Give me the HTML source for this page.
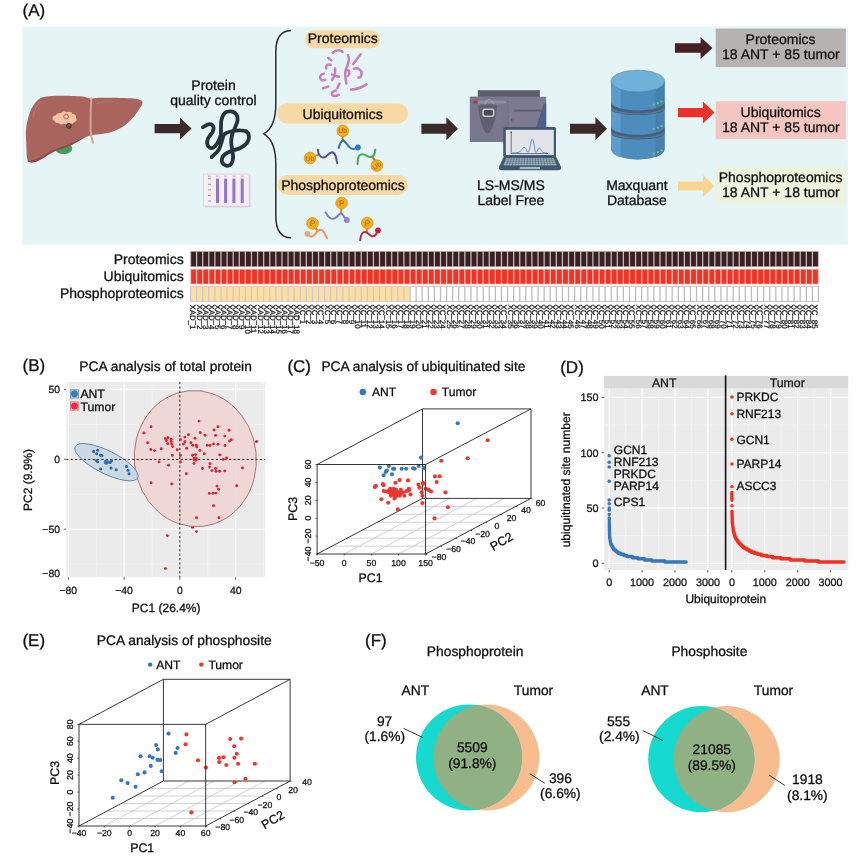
<!DOCTYPE html>
<html><head><meta charset="utf-8"><title>Figure</title>
<style>
html,body{margin:0;padding:0;background:#fff;}
body{width:865px;height:861px;overflow:hidden;font-family:"Liberation Sans",sans-serif;}
svg{display:block;font-family:"Liberation Sans",sans-serif;text-rendering:geometricPrecision;will-change:transform;}

svg text{stroke:#0d0d0d;stroke-width:0.28px;}
svg text.nb{stroke:none;}
svg text.sl{font-family:"Liberation Sans",sans-serif;font-size:7.9px;fill:#111;stroke:#111;stroke-width:0.22px;}
</style></head>
<body>
<svg width="865" height="861" viewBox="0 0 865 861" fill="#0d0d0d">
<defs><clipPath id="clipB"><rect x="66.2" y="382" width="199" height="195.2"/></clipPath></defs>
<rect width="865" height="861" fill="#ffffff"/>
<text x="22.5" y="15.8" font-size="17">(A)</text>
<rect x="22.4" y="26.6" width="825.5" height="218" fill="#e5f5f6"/>
<ellipse cx="63.6" cy="148.5" rx="8.6" ry="5.6" fill="#3f9c5c"/>
<path d="M42.5,97.2 C50,95.6 60,95.6 66,95.8 C74,96 82,96.2 86,97.2 C88.5,97.8 90,98.6 91.2,98.6 C93,98.6 95,97.9 98,97.8 C106,97.6 125,97.8 134,98.4 C138.5,98.8 142.8,100.4 142.6,102.4 C142.4,104.8 141,106.4 139.6,108.4 C137,112.4 134.6,116 131.2,119.6 C127.6,123.2 125,125.4 122,127.2 C117.6,129.8 114,131.2 110,132.4 C104.6,133.8 99,134 93.6,134.8 C90,135.6 87,136.6 84.6,137.7 C80,139.9 76,142.8 71.1,145.2 C66,147.6 60,149.2 54.6,151.2 C50,153.2 46.5,156 42.5,158.6 C39.5,160.4 35.5,162.5 32,162.5 C29.5,162.5 28,161.8 27.5,160 C26.2,155 26.5,150 26.4,145 C26.1,140 25.6,135 26,130 C26.4,125 27.5,120 29,115 C30.5,110.5 32.3,106.3 35,103 C37,100.3 39.5,98.2 42.5,97.2Z" fill="#a8645d"/>
<path d="M27.5,160 C28,161.8 29.5,162.5 32,162.5 C35.5,162.5 39.5,160.4 42.5,158.6 C46.5,156 50,153.2 54.6,151.2 C60,149.2 66,147.6 71.1,145.2 C76,142.8 80,139.9 84.6,137.7 C81,138.6 76,141 71,143.4 C65,146 59,147.6 54,149.4 C49,151.4 45,154.4 41.5,156.6 C37.5,158.8 33,160.6 30.5,160.6 C29,160.6 28,160.4 27.5,160Z" fill="#8d4c4b"/>
<path d="M91.3,98.6 C90.9,106 90.3,118 90.6,130 C90.8,135 91.9,139.5 93,142.9" fill="none" stroke="#d9a292" stroke-width="2" stroke-linecap="round"/>
<path d="M33,118 C33.8,111 36.5,105.5 40.5,101.5" fill="none" stroke="#b87a72" stroke-width="1.1" stroke-linecap="round" opacity="0.8"/>
<path d="M97,103.5 C102,101.8 108,101.4 113,101.6" fill="none" stroke="#b87a72" stroke-width="1" stroke-linecap="round" opacity="0.7"/>
<path d="M52.5,119 C52.2,117 54,115.4 55.8,115.6 C56.2,113.6 58.6,112.4 60.6,113.2 C62,111.4 65.2,111 67,112.2 C69,111.2 72,112 72.6,114 C75,114 76.6,116 76,118 C77.2,119.6 76.2,121.8 74.2,122 C73.4,123.8 71,124.2 69.6,123.2 C68,124.8 65.2,124.8 64,123.6 C62.2,125 59.4,124.6 58.6,123 C56.4,123.6 54.4,122.2 54.6,120.6 C53.4,120.4 52.6,119.8 52.5,119Z" fill="#f7c3a0"/>
<circle cx="66.1" cy="116.6" r="2.3" fill="#f9d3bd" stroke="#e4453c" stroke-width="1"/>
<circle cx="68.9" cy="125.9" r="2.3" fill="#8f5557" stroke="#3a2224" stroke-width="1"/>
<path d="M154.6,123.9H180.0V117.8L191.6,128.6L180.0,139.4V133.3H154.6Z" fill="#3a2a29"/>
<path d="M421.4,123.8H446.4V117.3L458.0,128.8L446.4,140.3V133.8H421.4Z" fill="#3a2a29"/>
<path d="M570.0,123.8H595.4V117.3L607.0,128.8L595.4,140.3V133.8H570.0Z" fill="#3a2a29"/>
<path d="M675.0,43.3H700.6V37.0L712.4,48.0L700.6,59.0V52.7H675.0Z" fill="#452127"/>
<path d="M678.0,108.0H702.9V101.6L714.5,112.6L702.9,123.6V117.2H678.0Z" fill="#ea3228"/>
<path d="M678.0,181.4H702.9V175.0L714.5,186.0L702.9,197.0V190.6H678.0Z" fill="#fbd390"/>
<text x="213.5" y="89.5" font-size="14" text-anchor="middle">Protein</text>
<text x="213.4" y="104.5" font-size="14" text-anchor="middle">quality control</text>
<path d="M202.9,127.3 C204.0,126.8 207.6,124.3 209.3,124.2 C211.1,124.2 213.0,125.6 213.5,126.9 C214.0,128.2 213.2,130.3 212.4,132.2 C211.5,134.1 209.1,136.3 208.2,138.2 C207.3,140.1 206.8,141.9 207.1,143.5 C207.3,145.1 208.6,147.0 209.7,147.6 C210.8,148.3 212.5,148.1 213.9,147.3 C215.2,146.4 216.5,144.7 217.6,142.7 C218.8,140.7 220.1,137.7 220.7,135.2 C221.2,132.7 220.9,130.2 221.0,127.6 C221.2,125.1 220.8,122.5 221.4,120.1 C222.0,117.7 222.9,114.7 224.4,113.3 C225.9,111.9 228.5,111.3 230.5,111.4 C232.4,111.5 234.9,112.6 236.1,114.1 C237.3,115.5 237.8,117.8 237.6,120.1 C237.5,122.4 235.9,125.1 235.0,127.6 C234.1,130.2 232.6,132.7 232.0,135.2 C231.4,137.7 231.2,140.2 231.2,142.7 C231.3,145.3 232.0,147.8 232.4,150.3 C232.7,152.8 233.3,155.6 233.1,157.8 C232.9,160.1 232.3,162.5 231.2,163.9 C230.2,165.2 228.1,165.9 226.7,165.8 C225.3,165.6 223.3,164.4 222.5,163.1 C221.8,161.8 221.7,159.3 222.2,157.8 C222.6,156.3 223.7,155.2 225.2,154.1 C226.7,152.9 228.7,152.0 231.2,151.0 C233.7,150.0 237.6,149.4 240.3,148.0 C242.9,146.6 245.6,144.6 247.1,142.7 C248.5,140.8 249.1,138.6 249.0,136.7 C248.8,134.8 247.8,132.5 246.3,131.4 C244.9,130.3 242.5,130.3 240.3,130.3 C238.0,130.2 235.0,130.6 232.7,131.0 C230.5,131.5 228.2,132.2 226.7,132.9 C225.2,133.6 224.6,133.6 223.7,135.2 C222.8,136.8 222.3,140.2 221.4,142.7 C220.5,145.3 220.0,147.9 218.4,150.3 C216.8,152.7 212.7,155.9 211.6,157.1" fill="none" stroke="#26323c" stroke-width="3.8" stroke-linecap="round" stroke-linejoin="round"/>
<rect x="204.6" y="175" width="46" height="32.4" fill="#dccfdc"/>
<rect x="203.5" y="174" width="45.6" height="32" fill="#f6eff2" stroke="#dccfda" stroke-width="0.7"/>
<rect x="216.0" y="178.7" width="3" height="24.2" fill="#9672c9"/>
<rect x="215.9" y="175.6" width="3.2" height="1.2" fill="#cdb9dc"/>
<rect x="224.1" y="178.7" width="3" height="24.2" fill="#9672c9"/>
<rect x="224.0" y="175.6" width="3.2" height="1.2" fill="#cdb9dc"/>
<rect x="232.4" y="178.7" width="3" height="24.2" fill="#9672c9"/>
<rect x="232.3" y="175.6" width="3.2" height="1.2" fill="#cdb9dc"/>
<rect x="240.7" y="178.7" width="3" height="24.2" fill="#9672c9"/>
<rect x="240.6" y="175.6" width="3.2" height="1.2" fill="#cdb9dc"/>
<rect x="207.9" y="175.6" width="3.2" height="1.2" fill="#cdb9dc"/>
<rect x="208" y="178.2" width="3" height="1" fill="#a88bd2"/>
<rect x="208" y="183.8" width="3" height="1" fill="#a88bd2"/>
<rect x="208" y="189.4" width="3" height="1" fill="#a88bd2"/>
<rect x="208" y="195.0" width="3" height="1" fill="#a88bd2"/>
<rect x="208" y="200.5" width="3" height="1" fill="#a88bd2"/>
<path d="M291,30.6 C280.4,30.8 275.8,38 275.8,52 V104 C275.8,121 271.2,129.6 263.8,133.9 C271.2,138.2 275.8,147 275.8,164 V216 C275.8,230 280.4,237.6 291,237.8" fill="none" stroke="#2e2a2a" stroke-width="1.5"/>
<rect x="305" y="30.3" width="75.2" height="18" rx="9" fill="#f8d9a4"/>
<text x="342.8" y="42.8" font-size="14" text-anchor="middle">Proteomics</text>
<rect x="277" y="103.2" width="131" height="20.4" rx="10.2" fill="#f8d9a4"/>
<text x="342.6" y="118.5" font-size="14" text-anchor="middle">Ubiquitomics</text>
<rect x="277.6" y="175" width="130.4" height="20" rx="10" fill="#f8d9a4"/>
<text x="343" y="189.8" font-size="14" text-anchor="middle">Phosphoproteomics</text>
<path d="M332.8,52.8 Q338.1,48 342.6,52" fill="none" stroke="#cd7cbd" stroke-width="2.5" stroke-linecap="round"/>
<path d="M328.3,58.1 L331.3,60.3" fill="none" stroke="#cd7cbd" stroke-width="2.5" stroke-linecap="round"/>
<path d="M326.1,68.6 Q325.6,63.4 330.6,64.8" fill="none" stroke="#cd7cbd" stroke-width="2.5" stroke-linecap="round"/>
<path d="M323.8,73.8 C318.6,74.6 318.8,81.6 325.3,79.9" fill="none" stroke="#cd7cbd" stroke-width="2.5" stroke-linecap="round"/>
<path d="M335.1,68.6 C335.4,73 334.4,77 332.1,79.9" fill="none" stroke="#cd7cbd" stroke-width="2.5" stroke-linecap="round"/>
<path d="M332.1,74.6 L338.8,76.8" fill="none" stroke="#cd7cbd" stroke-width="2.5" stroke-linecap="round"/>
<path d="M323.1,88.1 L328.3,86.6" fill="none" stroke="#cd7cbd" stroke-width="2.5" stroke-linecap="round"/>
<path d="M339.6,83.6 L337.3,88.1" fill="none" stroke="#cd7cbd" stroke-width="2.5" stroke-linecap="round"/>
<path d="M335.8,90.4 C329.8,91.4 330.6,99 338.8,94.9" fill="none" stroke="#cd7cbd" stroke-width="2.5" stroke-linecap="round"/>
<path d="M347.9,55.1 C351,60 347,66 345.6,70.1 C344.6,74 345.6,79 346.4,83.6" fill="none" stroke="#cd7cbd" stroke-width="2.5" stroke-linecap="round"/>
<path d="M360.6,54.3 L353.1,64.1" fill="none" stroke="#cd7cbd" stroke-width="2.5" stroke-linecap="round"/>
<path d="M346.6,70 C349.6,70 350.4,73.6 348.2,76" fill="none" stroke="#cd7cbd" stroke-width="2.5" stroke-linecap="round"/>
<path d="M353.9,68.6 C358,67.6 361.6,70 361.6,73.6 C361.6,76.6 360,77.8 358.4,77.6" fill="none" stroke="#cd7cbd" stroke-width="2.5" stroke-linecap="round"/>
<path d="M350.9,89.6 C356,89.4 362,87.4 366.6,84.4" fill="none" stroke="#cd7cbd" stroke-width="2.5" stroke-linecap="round"/>
<path d="M342.8,136.5 V140.4" stroke="#e08a1e" fill="none" stroke-width="2" stroke-linecap="round" stroke-linejoin="round"/>
<path d="M338.6,147.9 C339.6,144.6 341,141.6 342.8,140 C345.4,141.4 347,144.6 348.9,146.7 C350.6,148.6 352.6,149.4 355,148.6" stroke="#2f72c2" fill="none" stroke-width="2" stroke-linecap="round" stroke-linejoin="round"/>
<circle cx="357.9" cy="147.5" r="2.9" fill="#2479d0"/>
<circle cx="342.8" cy="130.9" r="5.8" fill="#f4ad1c" stroke="#dc8f12" stroke-width="0.8"/><text x="342.8" y="133.4" font-size="7" text-anchor="middle" fill="#a86208" class="nb">Ub</text>
<path d="M315.6,155.6 L319,154.6" stroke="#e08a1e" fill="none" stroke-width="2" stroke-linecap="round" stroke-linejoin="round"/>
<path d="M317.9,149.7 C318,152 318.4,153.8 319.4,155 C321,157.4 323.6,158.4 326,156.6 C328,155 329.4,152.4 332,152.2 C334,152.2 335,154 335.6,156 C336.4,158.6 336.8,160.6 337.1,163" stroke="#5d4c9e" fill="none" stroke-width="2" stroke-linecap="round" stroke-linejoin="round"/>
<circle cx="310.1" cy="158" r="5.8" fill="#f4ad1c" stroke="#dc8f12" stroke-width="0.8"/><text x="310.1" y="160.5" font-size="7" text-anchor="middle" fill="#a86208" class="nb">Ub</text>
<path d="M372.8,157.2 L375.2,160.8" stroke="#e0661e" fill="none" stroke-width="2" stroke-linecap="round" stroke-linejoin="round"/>
<path d="M357.5,164.1 C357.6,161 357.8,158.4 358.7,156.5 C359.8,154.4 361.6,153.8 363.6,154.4 C366,155.2 368,157 370.4,157 C372.6,157 374,155.6 374.6,153.6 C375,152.4 375.2,151 375.3,149.7" stroke="#4ba75c" fill="none" stroke-width="2" stroke-linecap="round" stroke-linejoin="round"/>
<circle cx="376.8" cy="165.6" r="5.8" fill="#f4ad1c" stroke="#dc8f12" stroke-width="0.8"/><text transform="rotate(-35 376.8 165.6)" x="376.8" y="168.1" font-size="7" text-anchor="middle" fill="#a86208" class="nb">Ub</text>
<path d="M341.4,208.6 L341,213.4" stroke="#e08a1e" fill="none" stroke-width="2" stroke-linecap="round" stroke-linejoin="round"/>
<path d="M325.5,212.4 C327,215 328.8,217.4 330.8,218.4 C333,219.4 335,218.6 336.6,217 C338.2,215.4 339.4,213.8 340.8,213.2 C342.4,213.6 343.2,215.4 344.2,217 L345.6,218.8" stroke="#7c7fc6" fill="none" stroke-width="2" stroke-linecap="round" stroke-linejoin="round"/>
<circle cx="346.8" cy="220" r="2.9" fill="#8c86cd"/>
<circle cx="341.6" cy="203" r="5.8" fill="#f4ad1c" stroke="#dc8f12" stroke-width="0.8"/><text x="341.6" y="205.9" font-size="8" text-anchor="middle" fill="#a86208" class="nb">P</text>
<path d="M315.4,228.2 L318,230.8" stroke="#e08a1e" fill="none" stroke-width="2" stroke-linecap="round" stroke-linejoin="round"/>
<path d="M308.6,235.2 C310,236.8 312,237 313.6,235.8 C315.6,234.2 316.6,231.6 318.6,230.4 C320.4,229.4 322.4,230 323.6,231.8 C325,233.8 326,236 327,238" stroke="#f0946a" fill="none" stroke-width="2" stroke-linecap="round" stroke-linejoin="round"/>
<circle cx="307.4" cy="233.8" r="2.9" fill="#f5a27c"/>
<circle cx="312.6" cy="223.4" r="5.8" fill="#f4ad1c" stroke="#dc8f12" stroke-width="0.8"/><text x="312.6" y="226.3" font-size="8" text-anchor="middle" fill="#a86208" class="nb">P</text>
<path d="M367.2,228.8 L367,232.2" stroke="#e08a1e" fill="none" stroke-width="2" stroke-linecap="round" stroke-linejoin="round"/>
<path d="M360.2,240.3 C360.4,237.6 360.8,235.4 361.8,234 C363,232.2 365,231.6 366.8,232.6 C368.8,233.8 370,235.8 372,236.2 C374,236.6 375.6,235.4 376.4,233.6" stroke="#b42c44" fill="none" stroke-width="2" stroke-linecap="round" stroke-linejoin="round"/>
<circle cx="378" cy="230.5" r="2.9" fill="#c2203c"/>
<circle cx="367.3" cy="223" r="5.8" fill="#f4ad1c" stroke="#dc8f12" stroke-width="0.8"/><text x="367.3" y="225.9" font-size="8" text-anchor="middle" fill="#a86208" class="nb">P</text>
<rect x="477.8" y="90.2" width="62.1" height="7" fill="#5c5e6b"/>
<rect x="469.9" y="96.8" width="76.3" height="45.1" rx="0.8" fill="#7b7a8f"/>
<rect x="469.9" y="96.8" width="38.4" height="45.1" rx="0.8" fill="#78778b"/>
<path d="M508.3,96.8V141.9" stroke="#6c6b7e" stroke-width="0.6"/>
<path d="M543.9,103.5 H546.2 V127 H536.3 Z" fill="#4b608f"/>
<rect x="477.8" y="100.8" width="28" height="2.8" rx="1.2" fill="#8f8ea2"/>
<ellipse cx="475.4" cy="102.1" rx="2.4" ry="1.7" fill="#b23244"/>
<path d="M478.4,105.6 C478.4,104.6 480,104.4 487.6,104.4 C495.4,104.4 496.9,104.6 496.9,105.6 C496.9,116 492,130 489.6,132.6 C488.4,133.8 486.8,133.8 485.6,132.6 C483,130 478.4,116 478.4,105.6Z" fill="#5e5f6f"/>
<path d="M485,104.6 C485.6,101 487,99.6 489,99.6 C491,99.6 492.4,101 494,104.4" fill="none" stroke="#b4b4c2" stroke-width="0.7"/>
<rect x="482.3" y="108.4" width="12.2" height="8.6" rx="2.4" fill="#c6c6d2"/>
<rect x="483.9" y="110" width="9" height="5.4" rx="1.4" fill="#4b4b57"/>
<rect x="514" y="109.6" width="27.4" height="2" fill="#5f6070"/>
<circle cx="511.8" cy="120" r="0.8" fill="#4a4a58"/>
<rect x="503.2" y="127" width="52.8" height="30" rx="1.6" fill="#3f5a6f"/>
<rect x="505.8" y="129.8" width="48" height="25.2" fill="#e3e4e9"/>
<path d="M504,156.3 H555.8 L561,166.8 C561.4,168.8 560.6,170.3 558.6,170.3 H501.4 C499.4,170.3 498.6,168.8 499,166.8 Z" fill="#3f5a6f"/>
<path d="M506.2,158.2 H553.8 L556.6,165.2 H503.4 Z" fill="#a9bac6"/>
<path d="M504.9,159.9H555.1" stroke="#3f5a6f" stroke-width="0.5"/>
<path d="M504.2,161.7H555.8" stroke="#3f5a6f" stroke-width="0.5"/>
<path d="M503.5,163.4H556.5" stroke="#3f5a6f" stroke-width="0.5"/>
<path d="M508.8,158.2L506.4,165.2" stroke="#3f5a6f" stroke-width="0.5"/>
<path d="M511.5,158.2L509.3,165.2" stroke="#3f5a6f" stroke-width="0.5"/>
<path d="M514.1,158.2L512.3,165.2" stroke="#3f5a6f" stroke-width="0.5"/>
<path d="M516.8,158.2L515.2,165.2" stroke="#3f5a6f" stroke-width="0.5"/>
<path d="M519.4,158.2L518.2,165.2" stroke="#3f5a6f" stroke-width="0.5"/>
<path d="M522.1,158.2L521.1,165.2" stroke="#3f5a6f" stroke-width="0.5"/>
<path d="M524.7,158.2L524.1,165.2" stroke="#3f5a6f" stroke-width="0.5"/>
<path d="M527.4,158.2L527.0,165.2" stroke="#3f5a6f" stroke-width="0.5"/>
<path d="M530.0,158.2L530.0,165.2" stroke="#3f5a6f" stroke-width="0.5"/>
<path d="M532.6,158.2L533.0,165.2" stroke="#3f5a6f" stroke-width="0.5"/>
<path d="M535.3,158.2L535.9,165.2" stroke="#3f5a6f" stroke-width="0.5"/>
<path d="M537.9,158.2L538.9,165.2" stroke="#3f5a6f" stroke-width="0.5"/>
<path d="M540.6,158.2L541.8,165.2" stroke="#3f5a6f" stroke-width="0.5"/>
<path d="M543.2,158.2L544.8,165.2" stroke="#3f5a6f" stroke-width="0.5"/>
<path d="M545.9,158.2L547.7,165.2" stroke="#3f5a6f" stroke-width="0.5"/>
<path d="M548.5,158.2L550.7,165.2" stroke="#3f5a6f" stroke-width="0.5"/>
<path d="M551.2,158.2L553.6,165.2" stroke="#3f5a6f" stroke-width="0.5"/>
<rect x="519.8" y="166.9" width="20.2" height="2.2" fill="#a9bac6"/>
<path d="M511.2,132.1 V153.5 H547.7" fill="none" stroke="#3c3c46" stroke-width="0.7"/>
<circle cx="511.2" cy="132.2" r="0.8" fill="#3c3c46"/><path d="M546.4,152.6 L548.4,153.5 L546.4,154.4Z" fill="#3c3c46"/>
<path d="M512,153 C517,153 520,152.4 521.4,150.4 C522.6,148.6 523.2,147.4 524.2,147.4 C525.4,147.4 526,149 527,151 C527.8,152.6 528.4,152.6 529,151 C530,148 530.8,139.1 532.2,139.1 C533.6,139.1 534.2,148 535.2,151.4 C535.8,153 536.4,152.6 537,151.4 C537.8,149.6 538.2,148 539.1,148 C540.2,148 541,150 542,151.6 C543,153 545,153 547,153" fill="none" stroke="#3b82c4" stroke-width="0.8"/>
<text x="510.9" y="189.6" font-size="14" text-anchor="middle">LS-MS/MS</text>
<text x="510.9" y="204.6" font-size="14" text-anchor="middle">Label Free</text>
<path d="M611.0,81.1 V148.8 A26.8,10.9 0 0 0 664.5999999999999,148.8 V81.1 Z" fill="#4d8dbd"/>
<path d="M611.0,81.1 V148.8 A26.8,10.9 0 0 0 620.5,157.4 V89.7 Z" fill="#5a9dca"/>
<path d="M664.5999999999999,81.1 V148.8 A26.8,10.9 0 0 1 655.5999999999999,157.2 V89.5 Z" fill="#4581af"/>
<path d="M611.0,102.2 A26.8,8.3 0 0 0 664.5999999999999,102.2 V109.2 A26.8,5.9 0 0 1 611.0,109.2 Z" fill="#46607f"/>
<path d="M611.0,105.8 A26.8,7.4 0 0 0 664.5999999999999,105.8 V108.4 A26.8,6.1 0 0 1 611.0,108.4 Z" fill="#5d7794"/>
<path d="M611.0,126.5 A26.8,8.3 0 0 0 664.5999999999999,126.5 V133.5 A26.8,5.9 0 0 1 611.0,133.5 Z" fill="#46607f"/>
<path d="M611.0,130.1 A26.8,7.4 0 0 0 664.5999999999999,130.1 V132.7 A26.8,6.1 0 0 1 611.0,132.7 Z" fill="#5d7794"/>
<ellipse cx="637.8" cy="81.1" rx="26.8" ry="10.9" fill="#6fb1d9" stroke="#4d86b0" stroke-width="0.6"/>
<circle cx="653.8" cy="104.7" r="1.1" fill="#7ec365"/>
<circle cx="657.9" cy="103.2" r="1.1" fill="#7ec365"/>
<circle cx="661.7" cy="101.5" r="1.1" fill="#7ec365"/>
<circle cx="653.8" cy="129.1" r="1.1" fill="#7ec365"/>
<circle cx="657.9" cy="127.6" r="1.1" fill="#7ec365"/>
<circle cx="661.7" cy="125.9" r="1.1" fill="#7ec365"/>
<circle cx="653.8" cy="153.7" r="1.1" fill="#7ec365"/>
<circle cx="657.9" cy="152.2" r="1.1" fill="#7ec365"/>
<circle cx="661.7" cy="150.5" r="1.1" fill="#7ec365"/>
<text x="636.9" y="189.6" font-size="14" text-anchor="middle">Maxquant</text>
<text x="636.9" y="204.6" font-size="14" text-anchor="middle">Database</text>
<rect x="715.7" y="28.6" width="130.1" height="38.5" fill="#b4b3b2"/>
<rect x="715.7" y="101.2" width="130.1" height="38" fill="#f5c5c1"/>
<rect x="715.7" y="166.4" width="130.1" height="38.2" fill="#edf3dc"/>
<text x="780.6" y="44" font-size="14" text-anchor="middle">Proteomics</text>
<text x="780.6" y="116.6" font-size="14" text-anchor="middle">Ubiquitomics</text>
<text x="780.6" y="182.2" font-size="14" text-anchor="middle">Phosphoproteomics</text>
<text x="780.8" y="59" font-size="14" text-anchor="middle">18 ANT + 85 tumor</text>
<text x="780.8" y="131.8" font-size="14" text-anchor="middle">18 ANT + 85 tumor</text>
<text x="780.8" y="197.4" font-size="14" text-anchor="middle">18 ANT + 18 tumor</text>
<text x="183.7" y="263.6" font-size="14" text-anchor="end">Proteomics</text>
<text x="183.7" y="281.4" font-size="14" text-anchor="end">Ubiquitomics</text>
<text x="183.7" y="298.4" font-size="14" text-anchor="end">Phosphoproteomics</text>
<rect x="190.0" y="251.0" width="629.0" height="16.1" fill="#c6baba"/>
<rect x="191.15" y="251.8" width="4.80" height="14.5" fill="#3a1f23"/>
<rect x="197.25" y="251.8" width="4.80" height="14.5" fill="#3a1f23"/>
<rect x="203.34" y="251.8" width="4.80" height="14.5" fill="#3a1f23"/>
<rect x="209.44" y="251.8" width="4.80" height="14.5" fill="#3a1f23"/>
<rect x="215.54" y="251.8" width="4.80" height="14.5" fill="#3a1f23"/>
<rect x="221.64" y="251.8" width="4.80" height="14.5" fill="#3a1f23"/>
<rect x="227.73" y="251.8" width="4.80" height="14.5" fill="#3a1f23"/>
<rect x="233.83" y="251.8" width="4.80" height="14.5" fill="#3a1f23"/>
<rect x="239.93" y="251.8" width="4.80" height="14.5" fill="#3a1f23"/>
<rect x="246.02" y="251.8" width="4.80" height="14.5" fill="#3a1f23"/>
<rect x="252.12" y="251.8" width="4.80" height="14.5" fill="#3a1f23"/>
<rect x="258.22" y="251.8" width="4.80" height="14.5" fill="#3a1f23"/>
<rect x="264.32" y="251.8" width="4.80" height="14.5" fill="#3a1f23"/>
<rect x="270.41" y="251.8" width="4.80" height="14.5" fill="#3a1f23"/>
<rect x="276.51" y="251.8" width="4.80" height="14.5" fill="#3a1f23"/>
<rect x="282.61" y="251.8" width="4.80" height="14.5" fill="#3a1f23"/>
<rect x="288.70" y="251.8" width="4.80" height="14.5" fill="#3a1f23"/>
<rect x="294.80" y="251.8" width="4.80" height="14.5" fill="#3a1f23"/>
<rect x="300.90" y="251.8" width="4.80" height="14.5" fill="#3a1f23"/>
<rect x="306.99" y="251.8" width="4.80" height="14.5" fill="#3a1f23"/>
<rect x="313.09" y="251.8" width="4.80" height="14.5" fill="#3a1f23"/>
<rect x="319.19" y="251.8" width="4.80" height="14.5" fill="#3a1f23"/>
<rect x="325.29" y="251.8" width="4.80" height="14.5" fill="#3a1f23"/>
<rect x="331.38" y="251.8" width="4.80" height="14.5" fill="#3a1f23"/>
<rect x="337.48" y="251.8" width="4.80" height="14.5" fill="#3a1f23"/>
<rect x="343.58" y="251.8" width="4.80" height="14.5" fill="#3a1f23"/>
<rect x="349.67" y="251.8" width="4.80" height="14.5" fill="#3a1f23"/>
<rect x="355.77" y="251.8" width="4.80" height="14.5" fill="#3a1f23"/>
<rect x="361.87" y="251.8" width="4.80" height="14.5" fill="#3a1f23"/>
<rect x="367.97" y="251.8" width="4.80" height="14.5" fill="#3a1f23"/>
<rect x="374.06" y="251.8" width="4.80" height="14.5" fill="#3a1f23"/>
<rect x="380.16" y="251.8" width="4.80" height="14.5" fill="#3a1f23"/>
<rect x="386.26" y="251.8" width="4.80" height="14.5" fill="#3a1f23"/>
<rect x="392.35" y="251.8" width="4.80" height="14.5" fill="#3a1f23"/>
<rect x="398.45" y="251.8" width="4.80" height="14.5" fill="#3a1f23"/>
<rect x="404.55" y="251.8" width="4.80" height="14.5" fill="#3a1f23"/>
<rect x="410.65" y="251.8" width="4.80" height="14.5" fill="#3a1f23"/>
<rect x="416.74" y="251.8" width="4.80" height="14.5" fill="#3a1f23"/>
<rect x="422.84" y="251.8" width="4.80" height="14.5" fill="#3a1f23"/>
<rect x="428.94" y="251.8" width="4.80" height="14.5" fill="#3a1f23"/>
<rect x="435.03" y="251.8" width="4.80" height="14.5" fill="#3a1f23"/>
<rect x="441.13" y="251.8" width="4.80" height="14.5" fill="#3a1f23"/>
<rect x="447.23" y="251.8" width="4.80" height="14.5" fill="#3a1f23"/>
<rect x="453.32" y="251.8" width="4.80" height="14.5" fill="#3a1f23"/>
<rect x="459.42" y="251.8" width="4.80" height="14.5" fill="#3a1f23"/>
<rect x="465.52" y="251.8" width="4.80" height="14.5" fill="#3a1f23"/>
<rect x="471.62" y="251.8" width="4.80" height="14.5" fill="#3a1f23"/>
<rect x="477.71" y="251.8" width="4.80" height="14.5" fill="#3a1f23"/>
<rect x="483.81" y="251.8" width="4.80" height="14.5" fill="#3a1f23"/>
<rect x="489.91" y="251.8" width="4.80" height="14.5" fill="#3a1f23"/>
<rect x="496.00" y="251.8" width="4.80" height="14.5" fill="#3a1f23"/>
<rect x="502.10" y="251.8" width="4.80" height="14.5" fill="#3a1f23"/>
<rect x="508.20" y="251.8" width="4.80" height="14.5" fill="#3a1f23"/>
<rect x="514.30" y="251.8" width="4.80" height="14.5" fill="#3a1f23"/>
<rect x="520.39" y="251.8" width="4.80" height="14.5" fill="#3a1f23"/>
<rect x="526.49" y="251.8" width="4.80" height="14.5" fill="#3a1f23"/>
<rect x="532.59" y="251.8" width="4.80" height="14.5" fill="#3a1f23"/>
<rect x="538.68" y="251.8" width="4.80" height="14.5" fill="#3a1f23"/>
<rect x="544.78" y="251.8" width="4.80" height="14.5" fill="#3a1f23"/>
<rect x="550.88" y="251.8" width="4.80" height="14.5" fill="#3a1f23"/>
<rect x="556.98" y="251.8" width="4.80" height="14.5" fill="#3a1f23"/>
<rect x="563.07" y="251.8" width="4.80" height="14.5" fill="#3a1f23"/>
<rect x="569.17" y="251.8" width="4.80" height="14.5" fill="#3a1f23"/>
<rect x="575.27" y="251.8" width="4.80" height="14.5" fill="#3a1f23"/>
<rect x="581.36" y="251.8" width="4.80" height="14.5" fill="#3a1f23"/>
<rect x="587.46" y="251.8" width="4.80" height="14.5" fill="#3a1f23"/>
<rect x="593.56" y="251.8" width="4.80" height="14.5" fill="#3a1f23"/>
<rect x="599.65" y="251.8" width="4.80" height="14.5" fill="#3a1f23"/>
<rect x="605.75" y="251.8" width="4.80" height="14.5" fill="#3a1f23"/>
<rect x="611.85" y="251.8" width="4.80" height="14.5" fill="#3a1f23"/>
<rect x="617.95" y="251.8" width="4.80" height="14.5" fill="#3a1f23"/>
<rect x="624.04" y="251.8" width="4.80" height="14.5" fill="#3a1f23"/>
<rect x="630.14" y="251.8" width="4.80" height="14.5" fill="#3a1f23"/>
<rect x="636.24" y="251.8" width="4.80" height="14.5" fill="#3a1f23"/>
<rect x="642.33" y="251.8" width="4.80" height="14.5" fill="#3a1f23"/>
<rect x="648.43" y="251.8" width="4.80" height="14.5" fill="#3a1f23"/>
<rect x="654.53" y="251.8" width="4.80" height="14.5" fill="#3a1f23"/>
<rect x="660.63" y="251.8" width="4.80" height="14.5" fill="#3a1f23"/>
<rect x="666.72" y="251.8" width="4.80" height="14.5" fill="#3a1f23"/>
<rect x="672.82" y="251.8" width="4.80" height="14.5" fill="#3a1f23"/>
<rect x="678.92" y="251.8" width="4.80" height="14.5" fill="#3a1f23"/>
<rect x="685.01" y="251.8" width="4.80" height="14.5" fill="#3a1f23"/>
<rect x="691.11" y="251.8" width="4.80" height="14.5" fill="#3a1f23"/>
<rect x="697.21" y="251.8" width="4.80" height="14.5" fill="#3a1f23"/>
<rect x="703.31" y="251.8" width="4.80" height="14.5" fill="#3a1f23"/>
<rect x="709.40" y="251.8" width="4.80" height="14.5" fill="#3a1f23"/>
<rect x="715.50" y="251.8" width="4.80" height="14.5" fill="#3a1f23"/>
<rect x="721.60" y="251.8" width="4.80" height="14.5" fill="#3a1f23"/>
<rect x="727.69" y="251.8" width="4.80" height="14.5" fill="#3a1f23"/>
<rect x="733.79" y="251.8" width="4.80" height="14.5" fill="#3a1f23"/>
<rect x="739.89" y="251.8" width="4.80" height="14.5" fill="#3a1f23"/>
<rect x="745.98" y="251.8" width="4.80" height="14.5" fill="#3a1f23"/>
<rect x="752.08" y="251.8" width="4.80" height="14.5" fill="#3a1f23"/>
<rect x="758.18" y="251.8" width="4.80" height="14.5" fill="#3a1f23"/>
<rect x="764.28" y="251.8" width="4.80" height="14.5" fill="#3a1f23"/>
<rect x="770.37" y="251.8" width="4.80" height="14.5" fill="#3a1f23"/>
<rect x="776.47" y="251.8" width="4.80" height="14.5" fill="#3a1f23"/>
<rect x="782.57" y="251.8" width="4.80" height="14.5" fill="#3a1f23"/>
<rect x="788.66" y="251.8" width="4.80" height="14.5" fill="#3a1f23"/>
<rect x="794.76" y="251.8" width="4.80" height="14.5" fill="#3a1f23"/>
<rect x="800.86" y="251.8" width="4.80" height="14.5" fill="#3a1f23"/>
<rect x="806.96" y="251.8" width="4.80" height="14.5" fill="#3a1f23"/>
<rect x="813.05" y="251.8" width="4.80" height="14.5" fill="#3a1f23"/>
<rect x="190.0" y="268.8" width="629.0" height="15.7" fill="#efc6be"/>
<rect x="191.15" y="269.6" width="4.80" height="14.1" fill="#f03325"/>
<rect x="197.25" y="269.6" width="4.80" height="14.1" fill="#f03325"/>
<rect x="203.34" y="269.6" width="4.80" height="14.1" fill="#f03325"/>
<rect x="209.44" y="269.6" width="4.80" height="14.1" fill="#f03325"/>
<rect x="215.54" y="269.6" width="4.80" height="14.1" fill="#f03325"/>
<rect x="221.64" y="269.6" width="4.80" height="14.1" fill="#f03325"/>
<rect x="227.73" y="269.6" width="4.80" height="14.1" fill="#f03325"/>
<rect x="233.83" y="269.6" width="4.80" height="14.1" fill="#f03325"/>
<rect x="239.93" y="269.6" width="4.80" height="14.1" fill="#f03325"/>
<rect x="246.02" y="269.6" width="4.80" height="14.1" fill="#f03325"/>
<rect x="252.12" y="269.6" width="4.80" height="14.1" fill="#f03325"/>
<rect x="258.22" y="269.6" width="4.80" height="14.1" fill="#f03325"/>
<rect x="264.32" y="269.6" width="4.80" height="14.1" fill="#f03325"/>
<rect x="270.41" y="269.6" width="4.80" height="14.1" fill="#f03325"/>
<rect x="276.51" y="269.6" width="4.80" height="14.1" fill="#f03325"/>
<rect x="282.61" y="269.6" width="4.80" height="14.1" fill="#f03325"/>
<rect x="288.70" y="269.6" width="4.80" height="14.1" fill="#f03325"/>
<rect x="294.80" y="269.6" width="4.80" height="14.1" fill="#f03325"/>
<rect x="300.90" y="269.6" width="4.80" height="14.1" fill="#f03325"/>
<rect x="306.99" y="269.6" width="4.80" height="14.1" fill="#f03325"/>
<rect x="313.09" y="269.6" width="4.80" height="14.1" fill="#f03325"/>
<rect x="319.19" y="269.6" width="4.80" height="14.1" fill="#f03325"/>
<rect x="325.29" y="269.6" width="4.80" height="14.1" fill="#f03325"/>
<rect x="331.38" y="269.6" width="4.80" height="14.1" fill="#f03325"/>
<rect x="337.48" y="269.6" width="4.80" height="14.1" fill="#f03325"/>
<rect x="343.58" y="269.6" width="4.80" height="14.1" fill="#f03325"/>
<rect x="349.67" y="269.6" width="4.80" height="14.1" fill="#f03325"/>
<rect x="355.77" y="269.6" width="4.80" height="14.1" fill="#f03325"/>
<rect x="361.87" y="269.6" width="4.80" height="14.1" fill="#f03325"/>
<rect x="367.97" y="269.6" width="4.80" height="14.1" fill="#f03325"/>
<rect x="374.06" y="269.6" width="4.80" height="14.1" fill="#f03325"/>
<rect x="380.16" y="269.6" width="4.80" height="14.1" fill="#f03325"/>
<rect x="386.26" y="269.6" width="4.80" height="14.1" fill="#f03325"/>
<rect x="392.35" y="269.6" width="4.80" height="14.1" fill="#f03325"/>
<rect x="398.45" y="269.6" width="4.80" height="14.1" fill="#f03325"/>
<rect x="404.55" y="269.6" width="4.80" height="14.1" fill="#f03325"/>
<rect x="410.65" y="269.6" width="4.80" height="14.1" fill="#f03325"/>
<rect x="416.74" y="269.6" width="4.80" height="14.1" fill="#f03325"/>
<rect x="422.84" y="269.6" width="4.80" height="14.1" fill="#f03325"/>
<rect x="428.94" y="269.6" width="4.80" height="14.1" fill="#f03325"/>
<rect x="435.03" y="269.6" width="4.80" height="14.1" fill="#f03325"/>
<rect x="441.13" y="269.6" width="4.80" height="14.1" fill="#f03325"/>
<rect x="447.23" y="269.6" width="4.80" height="14.1" fill="#f03325"/>
<rect x="453.32" y="269.6" width="4.80" height="14.1" fill="#f03325"/>
<rect x="459.42" y="269.6" width="4.80" height="14.1" fill="#f03325"/>
<rect x="465.52" y="269.6" width="4.80" height="14.1" fill="#f03325"/>
<rect x="471.62" y="269.6" width="4.80" height="14.1" fill="#f03325"/>
<rect x="477.71" y="269.6" width="4.80" height="14.1" fill="#f03325"/>
<rect x="483.81" y="269.6" width="4.80" height="14.1" fill="#f03325"/>
<rect x="489.91" y="269.6" width="4.80" height="14.1" fill="#f03325"/>
<rect x="496.00" y="269.6" width="4.80" height="14.1" fill="#f03325"/>
<rect x="502.10" y="269.6" width="4.80" height="14.1" fill="#f03325"/>
<rect x="508.20" y="269.6" width="4.80" height="14.1" fill="#f03325"/>
<rect x="514.30" y="269.6" width="4.80" height="14.1" fill="#f03325"/>
<rect x="520.39" y="269.6" width="4.80" height="14.1" fill="#f03325"/>
<rect x="526.49" y="269.6" width="4.80" height="14.1" fill="#f03325"/>
<rect x="532.59" y="269.6" width="4.80" height="14.1" fill="#f03325"/>
<rect x="538.68" y="269.6" width="4.80" height="14.1" fill="#f03325"/>
<rect x="544.78" y="269.6" width="4.80" height="14.1" fill="#f03325"/>
<rect x="550.88" y="269.6" width="4.80" height="14.1" fill="#f03325"/>
<rect x="556.98" y="269.6" width="4.80" height="14.1" fill="#f03325"/>
<rect x="563.07" y="269.6" width="4.80" height="14.1" fill="#f03325"/>
<rect x="569.17" y="269.6" width="4.80" height="14.1" fill="#f03325"/>
<rect x="575.27" y="269.6" width="4.80" height="14.1" fill="#f03325"/>
<rect x="581.36" y="269.6" width="4.80" height="14.1" fill="#f03325"/>
<rect x="587.46" y="269.6" width="4.80" height="14.1" fill="#f03325"/>
<rect x="593.56" y="269.6" width="4.80" height="14.1" fill="#f03325"/>
<rect x="599.65" y="269.6" width="4.80" height="14.1" fill="#f03325"/>
<rect x="605.75" y="269.6" width="4.80" height="14.1" fill="#f03325"/>
<rect x="611.85" y="269.6" width="4.80" height="14.1" fill="#f03325"/>
<rect x="617.95" y="269.6" width="4.80" height="14.1" fill="#f03325"/>
<rect x="624.04" y="269.6" width="4.80" height="14.1" fill="#f03325"/>
<rect x="630.14" y="269.6" width="4.80" height="14.1" fill="#f03325"/>
<rect x="636.24" y="269.6" width="4.80" height="14.1" fill="#f03325"/>
<rect x="642.33" y="269.6" width="4.80" height="14.1" fill="#f03325"/>
<rect x="648.43" y="269.6" width="4.80" height="14.1" fill="#f03325"/>
<rect x="654.53" y="269.6" width="4.80" height="14.1" fill="#f03325"/>
<rect x="660.63" y="269.6" width="4.80" height="14.1" fill="#f03325"/>
<rect x="666.72" y="269.6" width="4.80" height="14.1" fill="#f03325"/>
<rect x="672.82" y="269.6" width="4.80" height="14.1" fill="#f03325"/>
<rect x="678.92" y="269.6" width="4.80" height="14.1" fill="#f03325"/>
<rect x="685.01" y="269.6" width="4.80" height="14.1" fill="#f03325"/>
<rect x="691.11" y="269.6" width="4.80" height="14.1" fill="#f03325"/>
<rect x="697.21" y="269.6" width="4.80" height="14.1" fill="#f03325"/>
<rect x="703.31" y="269.6" width="4.80" height="14.1" fill="#f03325"/>
<rect x="709.40" y="269.6" width="4.80" height="14.1" fill="#f03325"/>
<rect x="715.50" y="269.6" width="4.80" height="14.1" fill="#f03325"/>
<rect x="721.60" y="269.6" width="4.80" height="14.1" fill="#f03325"/>
<rect x="727.69" y="269.6" width="4.80" height="14.1" fill="#f03325"/>
<rect x="733.79" y="269.6" width="4.80" height="14.1" fill="#f03325"/>
<rect x="739.89" y="269.6" width="4.80" height="14.1" fill="#f03325"/>
<rect x="745.98" y="269.6" width="4.80" height="14.1" fill="#f03325"/>
<rect x="752.08" y="269.6" width="4.80" height="14.1" fill="#f03325"/>
<rect x="758.18" y="269.6" width="4.80" height="14.1" fill="#f03325"/>
<rect x="764.28" y="269.6" width="4.80" height="14.1" fill="#f03325"/>
<rect x="770.37" y="269.6" width="4.80" height="14.1" fill="#f03325"/>
<rect x="776.47" y="269.6" width="4.80" height="14.1" fill="#f03325"/>
<rect x="782.57" y="269.6" width="4.80" height="14.1" fill="#f03325"/>
<rect x="788.66" y="269.6" width="4.80" height="14.1" fill="#f03325"/>
<rect x="794.76" y="269.6" width="4.80" height="14.1" fill="#f03325"/>
<rect x="800.86" y="269.6" width="4.80" height="14.1" fill="#f03325"/>
<rect x="806.96" y="269.6" width="4.80" height="14.1" fill="#f03325"/>
<rect x="813.05" y="269.6" width="4.80" height="14.1" fill="#f03325"/>
<rect x="190.0" y="285.9" width="629.0" height="16.0" fill="#cfc8cc"/>
<rect x="410.0" y="285.9" width="409.0" height="16.0" fill="#bcbcbc"/>
<rect x="191.15" y="286.7" width="4.80" height="14.4" fill="#fddfa2"/>
<rect x="197.25" y="286.7" width="4.80" height="14.4" fill="#fddfa2"/>
<rect x="203.34" y="286.7" width="4.80" height="14.4" fill="#fddfa2"/>
<rect x="209.44" y="286.7" width="4.80" height="14.4" fill="#fddfa2"/>
<rect x="215.54" y="286.7" width="4.80" height="14.4" fill="#fddfa2"/>
<rect x="221.64" y="286.7" width="4.80" height="14.4" fill="#fddfa2"/>
<rect x="227.73" y="286.7" width="4.80" height="14.4" fill="#fddfa2"/>
<rect x="233.83" y="286.7" width="4.80" height="14.4" fill="#fddfa2"/>
<rect x="239.93" y="286.7" width="4.80" height="14.4" fill="#fddfa2"/>
<rect x="246.02" y="286.7" width="4.80" height="14.4" fill="#fddfa2"/>
<rect x="252.12" y="286.7" width="4.80" height="14.4" fill="#fddfa2"/>
<rect x="258.22" y="286.7" width="4.80" height="14.4" fill="#fddfa2"/>
<rect x="264.32" y="286.7" width="4.80" height="14.4" fill="#fddfa2"/>
<rect x="270.41" y="286.7" width="4.80" height="14.4" fill="#fddfa2"/>
<rect x="276.51" y="286.7" width="4.80" height="14.4" fill="#fddfa2"/>
<rect x="282.61" y="286.7" width="4.80" height="14.4" fill="#fddfa2"/>
<rect x="288.70" y="286.7" width="4.80" height="14.4" fill="#fddfa2"/>
<rect x="294.80" y="286.7" width="4.80" height="14.4" fill="#fddfa2"/>
<rect x="300.90" y="286.7" width="4.80" height="14.4" fill="#fddfa2"/>
<rect x="306.99" y="286.7" width="4.80" height="14.4" fill="#fddfa2"/>
<rect x="313.09" y="286.7" width="4.80" height="14.4" fill="#fddfa2"/>
<rect x="319.19" y="286.7" width="4.80" height="14.4" fill="#fddfa2"/>
<rect x="325.29" y="286.7" width="4.80" height="14.4" fill="#fddfa2"/>
<rect x="331.38" y="286.7" width="4.80" height="14.4" fill="#fddfa2"/>
<rect x="337.48" y="286.7" width="4.80" height="14.4" fill="#fddfa2"/>
<rect x="343.58" y="286.7" width="4.80" height="14.4" fill="#fddfa2"/>
<rect x="349.67" y="286.7" width="4.80" height="14.4" fill="#fddfa2"/>
<rect x="355.77" y="286.7" width="4.80" height="14.4" fill="#fddfa2"/>
<rect x="361.87" y="286.7" width="4.80" height="14.4" fill="#fddfa2"/>
<rect x="367.97" y="286.7" width="4.80" height="14.4" fill="#fddfa2"/>
<rect x="374.06" y="286.7" width="4.80" height="14.4" fill="#fddfa2"/>
<rect x="380.16" y="286.7" width="4.80" height="14.4" fill="#fddfa2"/>
<rect x="386.26" y="286.7" width="4.80" height="14.4" fill="#fddfa2"/>
<rect x="392.35" y="286.7" width="4.80" height="14.4" fill="#fddfa2"/>
<rect x="398.45" y="286.7" width="4.80" height="14.4" fill="#fddfa2"/>
<rect x="404.55" y="286.7" width="4.80" height="14.4" fill="#fddfa2"/>
<rect x="410.65" y="286.7" width="4.80" height="14.4" fill="#ffffff"/>
<rect x="416.74" y="286.7" width="4.80" height="14.4" fill="#ffffff"/>
<rect x="422.84" y="286.7" width="4.80" height="14.4" fill="#ffffff"/>
<rect x="428.94" y="286.7" width="4.80" height="14.4" fill="#ffffff"/>
<rect x="435.03" y="286.7" width="4.80" height="14.4" fill="#ffffff"/>
<rect x="441.13" y="286.7" width="4.80" height="14.4" fill="#ffffff"/>
<rect x="447.23" y="286.7" width="4.80" height="14.4" fill="#ffffff"/>
<rect x="453.32" y="286.7" width="4.80" height="14.4" fill="#ffffff"/>
<rect x="459.42" y="286.7" width="4.80" height="14.4" fill="#ffffff"/>
<rect x="465.52" y="286.7" width="4.80" height="14.4" fill="#ffffff"/>
<rect x="471.62" y="286.7" width="4.80" height="14.4" fill="#ffffff"/>
<rect x="477.71" y="286.7" width="4.80" height="14.4" fill="#ffffff"/>
<rect x="483.81" y="286.7" width="4.80" height="14.4" fill="#ffffff"/>
<rect x="489.91" y="286.7" width="4.80" height="14.4" fill="#ffffff"/>
<rect x="496.00" y="286.7" width="4.80" height="14.4" fill="#ffffff"/>
<rect x="502.10" y="286.7" width="4.80" height="14.4" fill="#ffffff"/>
<rect x="508.20" y="286.7" width="4.80" height="14.4" fill="#ffffff"/>
<rect x="514.30" y="286.7" width="4.80" height="14.4" fill="#ffffff"/>
<rect x="520.39" y="286.7" width="4.80" height="14.4" fill="#ffffff"/>
<rect x="526.49" y="286.7" width="4.80" height="14.4" fill="#ffffff"/>
<rect x="532.59" y="286.7" width="4.80" height="14.4" fill="#ffffff"/>
<rect x="538.68" y="286.7" width="4.80" height="14.4" fill="#ffffff"/>
<rect x="544.78" y="286.7" width="4.80" height="14.4" fill="#ffffff"/>
<rect x="550.88" y="286.7" width="4.80" height="14.4" fill="#ffffff"/>
<rect x="556.98" y="286.7" width="4.80" height="14.4" fill="#ffffff"/>
<rect x="563.07" y="286.7" width="4.80" height="14.4" fill="#ffffff"/>
<rect x="569.17" y="286.7" width="4.80" height="14.4" fill="#ffffff"/>
<rect x="575.27" y="286.7" width="4.80" height="14.4" fill="#ffffff"/>
<rect x="581.36" y="286.7" width="4.80" height="14.4" fill="#ffffff"/>
<rect x="587.46" y="286.7" width="4.80" height="14.4" fill="#ffffff"/>
<rect x="593.56" y="286.7" width="4.80" height="14.4" fill="#ffffff"/>
<rect x="599.65" y="286.7" width="4.80" height="14.4" fill="#ffffff"/>
<rect x="605.75" y="286.7" width="4.80" height="14.4" fill="#ffffff"/>
<rect x="611.85" y="286.7" width="4.80" height="14.4" fill="#ffffff"/>
<rect x="617.95" y="286.7" width="4.80" height="14.4" fill="#ffffff"/>
<rect x="624.04" y="286.7" width="4.80" height="14.4" fill="#ffffff"/>
<rect x="630.14" y="286.7" width="4.80" height="14.4" fill="#ffffff"/>
<rect x="636.24" y="286.7" width="4.80" height="14.4" fill="#ffffff"/>
<rect x="642.33" y="286.7" width="4.80" height="14.4" fill="#ffffff"/>
<rect x="648.43" y="286.7" width="4.80" height="14.4" fill="#ffffff"/>
<rect x="654.53" y="286.7" width="4.80" height="14.4" fill="#ffffff"/>
<rect x="660.63" y="286.7" width="4.80" height="14.4" fill="#ffffff"/>
<rect x="666.72" y="286.7" width="4.80" height="14.4" fill="#ffffff"/>
<rect x="672.82" y="286.7" width="4.80" height="14.4" fill="#ffffff"/>
<rect x="678.92" y="286.7" width="4.80" height="14.4" fill="#ffffff"/>
<rect x="685.01" y="286.7" width="4.80" height="14.4" fill="#ffffff"/>
<rect x="691.11" y="286.7" width="4.80" height="14.4" fill="#ffffff"/>
<rect x="697.21" y="286.7" width="4.80" height="14.4" fill="#ffffff"/>
<rect x="703.31" y="286.7" width="4.80" height="14.4" fill="#ffffff"/>
<rect x="709.40" y="286.7" width="4.80" height="14.4" fill="#ffffff"/>
<rect x="715.50" y="286.7" width="4.80" height="14.4" fill="#ffffff"/>
<rect x="721.60" y="286.7" width="4.80" height="14.4" fill="#ffffff"/>
<rect x="727.69" y="286.7" width="4.80" height="14.4" fill="#ffffff"/>
<rect x="733.79" y="286.7" width="4.80" height="14.4" fill="#ffffff"/>
<rect x="739.89" y="286.7" width="4.80" height="14.4" fill="#ffffff"/>
<rect x="745.98" y="286.7" width="4.80" height="14.4" fill="#ffffff"/>
<rect x="752.08" y="286.7" width="4.80" height="14.4" fill="#ffffff"/>
<rect x="758.18" y="286.7" width="4.80" height="14.4" fill="#ffffff"/>
<rect x="764.28" y="286.7" width="4.80" height="14.4" fill="#ffffff"/>
<rect x="770.37" y="286.7" width="4.80" height="14.4" fill="#ffffff"/>
<rect x="776.47" y="286.7" width="4.80" height="14.4" fill="#ffffff"/>
<rect x="782.57" y="286.7" width="4.80" height="14.4" fill="#ffffff"/>
<rect x="788.66" y="286.7" width="4.80" height="14.4" fill="#ffffff"/>
<rect x="794.76" y="286.7" width="4.80" height="14.4" fill="#ffffff"/>
<rect x="800.86" y="286.7" width="4.80" height="14.4" fill="#ffffff"/>
<rect x="806.96" y="286.7" width="4.80" height="14.4" fill="#ffffff"/>
<rect x="813.05" y="286.7" width="4.80" height="14.4" fill="#ffffff"/>
<text class="sl" transform="translate(190.45,304.4) rotate(90)">XAD_1</text>
<text class="sl" transform="translate(196.55,304.4) rotate(90)">XAD_2</text>
<text class="sl" transform="translate(202.64,304.4) rotate(90)">XAD_3</text>
<text class="sl" transform="translate(208.74,304.4) rotate(90)">XAD_4</text>
<text class="sl" transform="translate(214.84,304.4) rotate(90)">XAD_5</text>
<text class="sl" transform="translate(220.93,304.4) rotate(90)">XAD_6</text>
<text class="sl" transform="translate(227.03,304.4) rotate(90)">XAD_7</text>
<text class="sl" transform="translate(233.13,304.4) rotate(90)">XAD_8</text>
<text class="sl" transform="translate(239.23,304.4) rotate(90)">XAD_9</text>
<text class="sl" transform="translate(245.32,304.4) rotate(90)">XAD_10</text>
<text class="sl" transform="translate(251.42,304.4) rotate(90)">XAD_11</text>
<text class="sl" transform="translate(257.52,304.4) rotate(90)">XAD_12</text>
<text class="sl" transform="translate(263.61,304.4) rotate(90)">XAD_13</text>
<text class="sl" transform="translate(269.71,304.4) rotate(90)">XAD_14</text>
<text class="sl" transform="translate(275.81,304.4) rotate(90)">XAD_15</text>
<text class="sl" transform="translate(281.90,304.4) rotate(90)">XAD_16</text>
<text class="sl" transform="translate(288.00,304.4) rotate(90)">XAD_17</text>
<text class="sl" transform="translate(294.10,304.4) rotate(90)">XAD_18</text>
<text class="sl" transform="translate(300.20,304.4) rotate(90)">XC_1</text>
<text class="sl" transform="translate(306.29,304.4) rotate(90)">XC_2</text>
<text class="sl" transform="translate(312.39,304.4) rotate(90)">XC_3</text>
<text class="sl" transform="translate(318.49,304.4) rotate(90)">XC_4</text>
<text class="sl" transform="translate(324.58,304.4) rotate(90)">XC_5</text>
<text class="sl" transform="translate(330.68,304.4) rotate(90)">XC_6</text>
<text class="sl" transform="translate(336.78,304.4) rotate(90)">XC_7</text>
<text class="sl" transform="translate(342.88,304.4) rotate(90)">XC_8</text>
<text class="sl" transform="translate(348.97,304.4) rotate(90)">XC_9</text>
<text class="sl" transform="translate(355.07,304.4) rotate(90)">XC_10</text>
<text class="sl" transform="translate(361.17,304.4) rotate(90)">XC_11</text>
<text class="sl" transform="translate(367.26,304.4) rotate(90)">XC_12</text>
<text class="sl" transform="translate(373.36,304.4) rotate(90)">XC_13</text>
<text class="sl" transform="translate(379.46,304.4) rotate(90)">XC_14</text>
<text class="sl" transform="translate(385.56,304.4) rotate(90)">XC_15</text>
<text class="sl" transform="translate(391.65,304.4) rotate(90)">XC_16</text>
<text class="sl" transform="translate(397.75,304.4) rotate(90)">XC_17</text>
<text class="sl" transform="translate(403.85,304.4) rotate(90)">XC_18</text>
<text class="sl" transform="translate(409.94,304.4) rotate(90)">XC_19</text>
<text class="sl" transform="translate(416.04,304.4) rotate(90)">XC_20</text>
<text class="sl" transform="translate(422.14,304.4) rotate(90)">XC_21</text>
<text class="sl" transform="translate(428.23,304.4) rotate(90)">XC_22</text>
<text class="sl" transform="translate(434.33,304.4) rotate(90)">XC_23</text>
<text class="sl" transform="translate(440.43,304.4) rotate(90)">XC_24</text>
<text class="sl" transform="translate(446.53,304.4) rotate(90)">XC_25</text>
<text class="sl" transform="translate(452.62,304.4) rotate(90)">XC_26</text>
<text class="sl" transform="translate(458.72,304.4) rotate(90)">XC_27</text>
<text class="sl" transform="translate(464.82,304.4) rotate(90)">XC_28</text>
<text class="sl" transform="translate(470.91,304.4) rotate(90)">XC_29</text>
<text class="sl" transform="translate(477.01,304.4) rotate(90)">XC_30</text>
<text class="sl" transform="translate(483.11,304.4) rotate(90)">XC_31</text>
<text class="sl" transform="translate(489.21,304.4) rotate(90)">XC_32</text>
<text class="sl" transform="translate(495.30,304.4) rotate(90)">XC_33</text>
<text class="sl" transform="translate(501.40,304.4) rotate(90)">XC_34</text>
<text class="sl" transform="translate(507.50,304.4) rotate(90)">XC_35</text>
<text class="sl" transform="translate(513.59,304.4) rotate(90)">XC_36</text>
<text class="sl" transform="translate(519.69,304.4) rotate(90)">XC_37</text>
<text class="sl" transform="translate(525.79,304.4) rotate(90)">XC_38</text>
<text class="sl" transform="translate(531.89,304.4) rotate(90)">XC_39</text>
<text class="sl" transform="translate(537.98,304.4) rotate(90)">XC_40</text>
<text class="sl" transform="translate(544.08,304.4) rotate(90)">XC_41</text>
<text class="sl" transform="translate(550.18,304.4) rotate(90)">XC_42</text>
<text class="sl" transform="translate(556.27,304.4) rotate(90)">XC_43</text>
<text class="sl" transform="translate(562.37,304.4) rotate(90)">XC_44</text>
<text class="sl" transform="translate(568.47,304.4) rotate(90)">XC_45</text>
<text class="sl" transform="translate(574.57,304.4) rotate(90)">XC_46</text>
<text class="sl" transform="translate(580.66,304.4) rotate(90)">XC_47</text>
<text class="sl" transform="translate(586.76,304.4) rotate(90)">XC_48</text>
<text class="sl" transform="translate(592.86,304.4) rotate(90)">XC_49</text>
<text class="sl" transform="translate(598.95,304.4) rotate(90)">XC_50</text>
<text class="sl" transform="translate(605.05,304.4) rotate(90)">XC_51</text>
<text class="sl" transform="translate(611.15,304.4) rotate(90)">XC_52</text>
<text class="sl" transform="translate(617.24,304.4) rotate(90)">XC_53</text>
<text class="sl" transform="translate(623.34,304.4) rotate(90)">XC_54</text>
<text class="sl" transform="translate(629.44,304.4) rotate(90)">XC_55</text>
<text class="sl" transform="translate(635.54,304.4) rotate(90)">XC_56</text>
<text class="sl" transform="translate(641.63,304.4) rotate(90)">XC_57</text>
<text class="sl" transform="translate(647.73,304.4) rotate(90)">XC_58</text>
<text class="sl" transform="translate(653.83,304.4) rotate(90)">XC_59</text>
<text class="sl" transform="translate(659.92,304.4) rotate(90)">XC_60</text>
<text class="sl" transform="translate(666.02,304.4) rotate(90)">XC_61</text>
<text class="sl" transform="translate(672.12,304.4) rotate(90)">XC_62</text>
<text class="sl" transform="translate(678.22,304.4) rotate(90)">XC_63</text>
<text class="sl" transform="translate(684.31,304.4) rotate(90)">XC_64</text>
<text class="sl" transform="translate(690.41,304.4) rotate(90)">XC_65</text>
<text class="sl" transform="translate(696.51,304.4) rotate(90)">XC_66</text>
<text class="sl" transform="translate(702.60,304.4) rotate(90)">XC_67</text>
<text class="sl" transform="translate(708.70,304.4) rotate(90)">XC_68</text>
<text class="sl" transform="translate(714.80,304.4) rotate(90)">XC_69</text>
<text class="sl" transform="translate(720.90,304.4) rotate(90)">XC_70</text>
<text class="sl" transform="translate(726.99,304.4) rotate(90)">XC_71</text>
<text class="sl" transform="translate(733.09,304.4) rotate(90)">XC_72</text>
<text class="sl" transform="translate(739.19,304.4) rotate(90)">XC_73</text>
<text class="sl" transform="translate(745.28,304.4) rotate(90)">XC_74</text>
<text class="sl" transform="translate(751.38,304.4) rotate(90)">XC_75</text>
<text class="sl" transform="translate(757.48,304.4) rotate(90)">XC_76</text>
<text class="sl" transform="translate(763.57,304.4) rotate(90)">XC_77</text>
<text class="sl" transform="translate(769.67,304.4) rotate(90)">XC_78</text>
<text class="sl" transform="translate(775.77,304.4) rotate(90)">XC_79</text>
<text class="sl" transform="translate(781.87,304.4) rotate(90)">XC_80</text>
<text class="sl" transform="translate(787.96,304.4) rotate(90)">XC_81</text>
<text class="sl" transform="translate(794.06,304.4) rotate(90)">XC_82</text>
<text class="sl" transform="translate(800.16,304.4) rotate(90)">XC_83</text>
<text class="sl" transform="translate(806.25,304.4) rotate(90)">XC_84</text>
<text class="sl" transform="translate(812.35,304.4) rotate(90)">XC_85</text>
<text x="22.6" y="371.4" font-size="17">(B)</text>
<text x="79.3" y="371.4" font-size="13.8">PCA analysis of total protein</text>
<rect x="66.2" y="382" width="199.0" height="195.2" fill="#ebebeb"/>
<g clip-path="url(#clipB)">
<path d="M96.2,382V577.2" stroke="#f6f6f6" stroke-width="0.6"/>
<path d="M152.0,382V577.2" stroke="#f6f6f6" stroke-width="0.6"/>
<path d="M207.8,382V577.2" stroke="#f6f6f6" stroke-width="0.6"/>
<path d="M263.6,382V577.2" stroke="#f6f6f6" stroke-width="0.6"/>
<path d="M66.2,424.4H265.2" stroke="#f6f6f6" stroke-width="0.6"/>
<path d="M66.2,494.2H265.2" stroke="#f6f6f6" stroke-width="0.6"/>
<path d="M66.2,564.1H265.2" stroke="#f6f6f6" stroke-width="0.6"/>
<path d="M68.3,382V577.2" stroke="#ffffff" stroke-width="1.1"/>
<path d="M124.1,382V577.2" stroke="#ffffff" stroke-width="1.1"/>
<path d="M179.9,382V577.2" stroke="#ffffff" stroke-width="1.1"/>
<path d="M235.7,382V577.2" stroke="#ffffff" stroke-width="1.1"/>
<path d="M66.2,389.4H265.2" stroke="#ffffff" stroke-width="1.1"/>
<path d="M66.2,459.3H265.2" stroke="#ffffff" stroke-width="1.1"/>
<path d="M66.2,529.2H265.2" stroke="#ffffff" stroke-width="1.1"/>
<ellipse cx="195.3" cy="458.6" rx="61" ry="68.2" transform="rotate(-6 195.3 458.6)" fill="#f0d4d2" fill-opacity="0.85" stroke="#a65a5c" stroke-width="0.8"/>
<ellipse cx="106.5" cy="462.2" rx="35" ry="11.4" transform="rotate(26.5 106.5 462.2)" fill="#c6d6e4" fill-opacity="0.85" stroke="#4d7aa6" stroke-width="0.8"/>
<path d="M66.2,459.4H265.2" stroke="#1a1a1a" stroke-width="1" stroke-dasharray="2.2,2.2"/>
<path d="M179.9,382V577.2" stroke="#1a1a1a" stroke-width="1" stroke-dasharray="2.2,2.2"/>
<circle cx="199.0" cy="421.1" r="1.45" fill="#dc2035"/>
<circle cx="151.1" cy="426.7" r="1.45" fill="#dc2035"/>
<circle cx="217.9" cy="426.7" r="1.45" fill="#dc2035"/>
<circle cx="214.0" cy="430.0" r="1.45" fill="#dc2035"/>
<circle cx="229.0" cy="430.2" r="1.45" fill="#dc2035"/>
<circle cx="143.8" cy="433.0" r="1.45" fill="#dc2035"/>
<circle cx="200.3" cy="432.6" r="1.45" fill="#dc2035"/>
<circle cx="188.4" cy="434.7" r="1.45" fill="#dc2035"/>
<circle cx="205.0" cy="435.2" r="1.45" fill="#dc2035"/>
<circle cx="215.6" cy="435.4" r="1.45" fill="#dc2035"/>
<circle cx="224.8" cy="436.1" r="1.45" fill="#dc2035"/>
<circle cx="184.9" cy="437.1" r="1.45" fill="#dc2035"/>
<circle cx="167.9" cy="437.7" r="1.45" fill="#dc2035"/>
<circle cx="165.4" cy="438.7" r="1.45" fill="#dc2035"/>
<circle cx="171.2" cy="439.2" r="1.45" fill="#dc2035"/>
<circle cx="195.0" cy="438.2" r="1.45" fill="#dc2035"/>
<circle cx="231.3" cy="439.8" r="1.45" fill="#dc2035"/>
<circle cx="229.5" cy="441.0" r="1.45" fill="#dc2035"/>
<circle cx="166.3" cy="440.5" r="1.45" fill="#dc2035"/>
<circle cx="180.4" cy="439.6" r="1.45" fill="#dc2035"/>
<circle cx="256.5" cy="441.5" r="1.45" fill="#dc2035"/>
<circle cx="147.6" cy="442.7" r="1.45" fill="#dc2035"/>
<circle cx="171.2" cy="441.5" r="1.45" fill="#dc2035"/>
<circle cx="184.9" cy="441.8" r="1.45" fill="#dc2035"/>
<circle cx="190.9" cy="442.7" r="1.45" fill="#dc2035"/>
<circle cx="183.4" cy="444.1" r="1.45" fill="#dc2035"/>
<circle cx="167.7" cy="443.8" r="1.45" fill="#dc2035"/>
<circle cx="171.7" cy="444.1" r="1.45" fill="#dc2035"/>
<circle cx="213.5" cy="443.9" r="1.45" fill="#dc2035"/>
<circle cx="218.0" cy="444.3" r="1.45" fill="#dc2035"/>
<circle cx="207.2" cy="445.2" r="1.45" fill="#dc2035"/>
<circle cx="210.0" cy="445.5" r="1.45" fill="#dc2035"/>
<circle cx="192.8" cy="445.3" r="1.45" fill="#dc2035"/>
<circle cx="196.3" cy="445.2" r="1.45" fill="#dc2035"/>
<circle cx="225.0" cy="445.5" r="1.45" fill="#dc2035"/>
<circle cx="172.7" cy="446.6" r="1.45" fill="#dc2035"/>
<circle cx="196.8" cy="447.1" r="1.45" fill="#dc2035"/>
<circle cx="186.7" cy="448.3" r="1.45" fill="#dc2035"/>
<circle cx="161.2" cy="448.8" r="1.45" fill="#dc2035"/>
<circle cx="177.3" cy="449.7" r="1.45" fill="#dc2035"/>
<circle cx="150.8" cy="449.5" r="1.45" fill="#dc2035"/>
<circle cx="154.6" cy="450.6" r="1.45" fill="#dc2035"/>
<circle cx="199.9" cy="450.4" r="1.45" fill="#dc2035"/>
<circle cx="204.3" cy="453.7" r="1.45" fill="#dc2035"/>
<circle cx="219.8" cy="454.9" r="1.45" fill="#dc2035"/>
<circle cx="172.4" cy="455.4" r="1.45" fill="#dc2035"/>
<circle cx="180.4" cy="455.4" r="1.45" fill="#dc2035"/>
<circle cx="192.6" cy="455.3" r="1.45" fill="#dc2035"/>
<circle cx="195.6" cy="454.6" r="1.45" fill="#dc2035"/>
<circle cx="226.6" cy="458.0" r="1.45" fill="#dc2035"/>
<circle cx="223.3" cy="459.4" r="1.45" fill="#dc2035"/>
<circle cx="159.0" cy="461.9" r="1.45" fill="#dc2035"/>
<circle cx="180.4" cy="461.9" r="1.45" fill="#dc2035"/>
<circle cx="194.0" cy="463.4" r="1.45" fill="#dc2035"/>
<circle cx="210.0" cy="463.8" r="1.45" fill="#dc2035"/>
<circle cx="168.6" cy="465.2" r="1.45" fill="#dc2035"/>
<circle cx="209.5" cy="467.1" r="1.45" fill="#dc2035"/>
<circle cx="202.4" cy="468.5" r="1.45" fill="#dc2035"/>
<circle cx="215.6" cy="468.5" r="1.45" fill="#dc2035"/>
<circle cx="242.4" cy="468.0" r="1.45" fill="#dc2035"/>
<circle cx="211.9" cy="470.6" r="1.45" fill="#dc2035"/>
<circle cx="216.1" cy="471.3" r="1.45" fill="#dc2035"/>
<circle cx="219.6" cy="471.3" r="1.45" fill="#dc2035"/>
<circle cx="224.7" cy="470.9" r="1.45" fill="#dc2035"/>
<circle cx="186.3" cy="473.7" r="1.45" fill="#dc2035"/>
<circle cx="151.1" cy="482.8" r="1.45" fill="#dc2035"/>
<circle cx="171.7" cy="484.0" r="1.45" fill="#dc2035"/>
<circle cx="236.7" cy="485.7" r="1.45" fill="#dc2035"/>
<circle cx="217.0" cy="486.1" r="1.45" fill="#dc2035"/>
<circle cx="218.6" cy="489.2" r="1.45" fill="#dc2035"/>
<circle cx="209.3" cy="493.4" r="1.45" fill="#dc2035"/>
<circle cx="213.0" cy="493.2" r="1.45" fill="#dc2035"/>
<circle cx="215.8" cy="493.1" r="1.45" fill="#dc2035"/>
<circle cx="213.5" cy="505.8" r="1.45" fill="#dc2035"/>
<circle cx="196.6" cy="517.8" r="1.45" fill="#dc2035"/>
<circle cx="218.9" cy="517.8" r="1.45" fill="#dc2035"/>
<circle cx="192.5" cy="527.4" r="1.45" fill="#dc2035"/>
<circle cx="196.5" cy="531.6" r="1.45" fill="#dc2035"/>
<circle cx="167.3" cy="535.6" r="1.45" fill="#dc2035"/>
<circle cx="165.4" cy="568.6" r="1.45" fill="#dc2035"/>
<circle cx="195.2" cy="459" r="2.6" fill="#e6243c"/>
<circle cx="93.6" cy="451.4" r="1.55" fill="#2c69a4"/>
<circle cx="97.6" cy="450.3" r="1.55" fill="#2c69a4"/>
<circle cx="96.7" cy="453.7" r="1.55" fill="#2c69a4"/>
<circle cx="100.5" cy="455.1" r="1.55" fill="#2c69a4"/>
<circle cx="101.9" cy="455.6" r="1.55" fill="#2c69a4"/>
<circle cx="96.3" cy="460.5" r="1.55" fill="#2c69a4"/>
<circle cx="97.6" cy="461.8" r="1.55" fill="#2c69a4"/>
<circle cx="111.5" cy="460.8" r="1.55" fill="#2c69a4"/>
<circle cx="110.1" cy="462.4" r="1.55" fill="#2c69a4"/>
<circle cx="100.7" cy="469.0" r="1.55" fill="#2c69a4"/>
<circle cx="111.0" cy="468.1" r="1.55" fill="#2c69a4"/>
<circle cx="116.2" cy="469.7" r="1.55" fill="#2c69a4"/>
<circle cx="126.5" cy="466.4" r="1.55" fill="#2c69a4"/>
<circle cx="128.0" cy="470.2" r="1.55" fill="#2c69a4"/>
<circle cx="129.1" cy="473.7" r="1.55" fill="#2c69a4"/>
<circle cx="106.4" cy="462" r="2.6" fill="#3577b2"/>
</g>
<rect x="70.3" y="389.7" width="8.3" height="8.3" fill="#b4cbe2" stroke="#5c89ba" stroke-width="0.7"/><circle cx="74.45" cy="393.85" r="3.5" fill="#3b7dba"/>
<rect x="70.3" y="401.9" width="8.3" height="8.3" fill="#f0c0c4" stroke="#d0646e" stroke-width="0.7"/><circle cx="74.45" cy="406.05" r="3.5" fill="#f02a44"/>
<text x="80.4" y="398" font-size="12.2">ANT</text>
<text x="80.5" y="410.8" font-size="12.2">Tumor</text>
<path d="M64,389.4H66.2" stroke="#333" stroke-width="0.8"/>
<text x="60" y="393.0" font-size="10.4" text-anchor="end" fill="#1a1a1a">50</text>
<path d="M64,459.3H66.2" stroke="#333" stroke-width="0.8"/>
<text x="60" y="462.9" font-size="10.4" text-anchor="end" fill="#1a1a1a">0</text>
<path d="M64,529.2H66.2" stroke="#333" stroke-width="0.8"/>
<text x="60" y="532.8" font-size="10.4" text-anchor="end" fill="#1a1a1a">−50</text>
<text x="60" y="577.4" font-size="10.4" text-anchor="end" fill="#1a1a1a">−80</text>
<path d="M68.3,577.2V579.8000000000001" stroke="#333" stroke-width="0.8"/>
<text x="68.3" y="593.6" font-size="10.4" text-anchor="middle" fill="#1a1a1a">−80</text>
<path d="M124.1,577.2V579.8000000000001" stroke="#333" stroke-width="0.8"/>
<text x="124.1" y="593.6" font-size="10.4" text-anchor="middle" fill="#1a1a1a">−40</text>
<path d="M179.9,577.2V579.8000000000001" stroke="#333" stroke-width="0.8"/>
<text x="179.9" y="593.6" font-size="10.4" text-anchor="middle" fill="#1a1a1a">0</text>
<path d="M235.7,577.2V579.8000000000001" stroke="#333" stroke-width="0.8"/>
<text x="235.7" y="593.6" font-size="10.4" text-anchor="middle" fill="#1a1a1a">40</text>
<text x="166.2" y="611.6" font-size="12" text-anchor="middle">PC1 (26.4%)</text>
<text transform="translate(32.2,480) rotate(-90)" font-size="12" text-anchor="middle">PC2 (9.9%)</text>
<text x="287.4" y="372.2" font-size="17">(C)</text>
<text x="321.4" y="371.3" font-size="13.8">PCA analysis of ubiquitinated site</text>
<circle cx="362.8" cy="392" r="3.2" fill="#3577bd"/><text x="372" y="395.8" font-size="12.1">ANT</text>
<circle cx="433.5" cy="392" r="3.2" fill="#ee3531"/><text x="441.8" y="395.8" font-size="12.1">Tumor</text>
<path d="M332.2,546.1H440.7" stroke="#c6c6c6" stroke-width="0.8" fill="none"/>
<path d="M347.2,538.1H455.7" stroke="#c6c6c6" stroke-width="0.8" fill="none"/>
<path d="M362.3,530.2H470.8" stroke="#c6c6c6" stroke-width="0.8" fill="none"/>
<path d="M377.3,522.2H485.8" stroke="#c6c6c6" stroke-width="0.8" fill="none"/>
<path d="M392.4,514.3H500.9" stroke="#c6c6c6" stroke-width="0.8" fill="none"/>
<path d="M407.4,506.3H515.9" stroke="#c6c6c6" stroke-width="0.8" fill="none"/>
<path d="M344.2,554.0L449.6,498.4" stroke="#c6c6c6" stroke-width="0.8" fill="none"/>
<path d="M371.4,554.0L476.8,498.4" stroke="#c6c6c6" stroke-width="0.8" fill="none"/>
<path d="M398.5,554.0L503.9,498.4" stroke="#c6c6c6" stroke-width="0.8" fill="none"/>
<path d="M422.5,408.9V498.4H531.0" stroke="#222" stroke-width="0.9" fill="none"/>
<path d="M317.1,554.0L422.5,498.4" stroke="#222" stroke-width="0.9" fill="none"/>
<circle cx="441.2" cy="460.8" r="2.05" fill="#ee3531"/>
<circle cx="467.7" cy="458.3" r="2.05" fill="#ee3531"/>
<circle cx="434.9" cy="476.4" r="2.05" fill="#ee3531"/>
<circle cx="439.6" cy="476.2" r="2.05" fill="#ee3531"/>
<circle cx="399.6" cy="480.1" r="2.05" fill="#ee3531"/>
<circle cx="408.0" cy="480.4" r="2.05" fill="#ee3531"/>
<circle cx="436.6" cy="482.0" r="2.05" fill="#ee3531"/>
<circle cx="395.4" cy="482.7" r="2.05" fill="#ee3531"/>
<circle cx="382.9" cy="484.1" r="2.05" fill="#ee3531"/>
<circle cx="375.9" cy="485.7" r="2.05" fill="#ee3531"/>
<circle cx="374.8" cy="487.1" r="2.05" fill="#ee3531"/>
<circle cx="418.4" cy="484.5" r="2.05" fill="#ee3531"/>
<circle cx="422.9" cy="482.9" r="2.05" fill="#ee3531"/>
<circle cx="419.4" cy="487.6" r="2.05" fill="#ee3531"/>
<circle cx="423.3" cy="483.8" r="2.05" fill="#ee3531"/>
<circle cx="383.4" cy="485.2" r="2.05" fill="#ee3531"/>
<circle cx="390.3" cy="488.7" r="2.05" fill="#ee3531"/>
<circle cx="393.8" cy="488.7" r="2.05" fill="#ee3531"/>
<circle cx="396.1" cy="489.9" r="2.05" fill="#ee3531"/>
<circle cx="400.8" cy="489.9" r="2.05" fill="#ee3531"/>
<circle cx="408.9" cy="488.7" r="2.05" fill="#ee3531"/>
<circle cx="421.7" cy="492.2" r="2.05" fill="#ee3531"/>
<circle cx="428.7" cy="489.9" r="2.05" fill="#ee3531"/>
<circle cx="431.0" cy="491.5" r="2.05" fill="#ee3531"/>
<circle cx="425.6" cy="488.7" r="2.05" fill="#ee3531"/>
<circle cx="445.4" cy="492.4" r="2.05" fill="#ee3531"/>
<circle cx="383.8" cy="491.0" r="2.05" fill="#ee3531"/>
<circle cx="386.9" cy="491.5" r="2.05" fill="#ee3531"/>
<circle cx="389.2" cy="492.2" r="2.05" fill="#ee3531"/>
<circle cx="391.5" cy="493.4" r="2.05" fill="#ee3531"/>
<circle cx="393.8" cy="492.2" r="2.05" fill="#ee3531"/>
<circle cx="396.1" cy="493.8" r="2.05" fill="#ee3531"/>
<circle cx="398.5" cy="492.2" r="2.05" fill="#ee3531"/>
<circle cx="400.8" cy="493.4" r="2.05" fill="#ee3531"/>
<circle cx="403.1" cy="492.2" r="2.05" fill="#ee3531"/>
<circle cx="406.6" cy="491.0" r="2.05" fill="#ee3531"/>
<circle cx="408.9" cy="490.6" r="2.05" fill="#ee3531"/>
<circle cx="410.5" cy="494.5" r="2.05" fill="#ee3531"/>
<circle cx="391.0" cy="495.7" r="2.05" fill="#ee3531"/>
<circle cx="395.0" cy="496.9" r="2.05" fill="#ee3531"/>
<circle cx="397.3" cy="495.0" r="2.05" fill="#ee3531"/>
<circle cx="399.6" cy="495.7" r="2.05" fill="#ee3531"/>
<circle cx="404.3" cy="495.7" r="2.05" fill="#ee3531"/>
<circle cx="381.3" cy="499.2" r="2.05" fill="#ee3531"/>
<circle cx="388.2" cy="502.7" r="2.05" fill="#ee3531"/>
<circle cx="394.5" cy="498.5" r="2.05" fill="#ee3531"/>
<circle cx="422.4" cy="503.1" r="2.05" fill="#ee3531"/>
<circle cx="422.4" cy="495.7" r="2.05" fill="#ee3531"/>
<circle cx="447.9" cy="507.3" r="2.05" fill="#ee3531"/>
<circle cx="397.8" cy="509.4" r="2.05" fill="#ee3531"/>
<circle cx="434.5" cy="518.2" r="2.05" fill="#ee3531"/>
<circle cx="392.7" cy="490.3" r="2.05" fill="#ee3531"/>
<circle cx="395.0" cy="491.3" r="2.05" fill="#ee3531"/>
<circle cx="393.4" cy="494.5" r="2.05" fill="#ee3531"/>
<circle cx="396.1" cy="492.2" r="2.05" fill="#ee3531"/>
<circle cx="389.2" cy="490.3" r="2.05" fill="#ee3531"/>
<circle cx="397.3" cy="493.4" r="2.05" fill="#ee3531"/>
<circle cx="392.2" cy="492.2" r="2.05" fill="#ee3531"/>
<circle cx="394.3" cy="493.6" r="2.05" fill="#ee3531"/>
<circle cx="390.6" cy="493.8" r="2.05" fill="#ee3531"/>
<circle cx="398.9" cy="494.1" r="2.05" fill="#ee3531"/>
<circle cx="395.7" cy="495.2" r="2.05" fill="#ee3531"/>
<circle cx="393.1" cy="492.9" r="2.05" fill="#ee3531"/>
<circle cx="487.7" cy="440.2" r="2.05" fill="#ee3531"/>
<circle cx="457.7" cy="423.2" r="2.05" fill="#3577bd"/>
<circle cx="421.0" cy="457.6" r="2.05" fill="#3577bd"/>
<circle cx="388.7" cy="466.0" r="2.05" fill="#3577bd"/>
<circle cx="418.7" cy="466.0" r="2.05" fill="#3577bd"/>
<circle cx="379.9" cy="467.6" r="2.05" fill="#3577bd"/>
<circle cx="424.0" cy="468.0" r="2.05" fill="#3577bd"/>
<circle cx="393.1" cy="468.7" r="2.05" fill="#3577bd"/>
<circle cx="394.3" cy="468.7" r="2.05" fill="#3577bd"/>
<circle cx="401.7" cy="468.7" r="2.05" fill="#3577bd"/>
<circle cx="406.1" cy="468.7" r="2.05" fill="#3577bd"/>
<circle cx="413.1" cy="468.3" r="2.05" fill="#3577bd"/>
<circle cx="414.7" cy="468.7" r="2.05" fill="#3577bd"/>
<circle cx="386.9" cy="470.6" r="2.05" fill="#3577bd"/>
<circle cx="385.7" cy="472.0" r="2.05" fill="#3577bd"/>
<circle cx="383.6" cy="475.2" r="2.05" fill="#3577bd"/>
<circle cx="392.0" cy="474.3" r="2.05" fill="#3577bd"/>
<path d="M317.1,464.5L422.5,408.9H531.0V498.4L425.6,554.0" stroke="#222" stroke-width="0.9" fill="none"/>
<path d="M425.6,464.5L531.0,408.9" stroke="#222" stroke-width="0.9" fill="none"/>
<rect x="317.1" y="464.5" width="108.5" height="89.5" stroke="#222" stroke-width="0.9" fill="none"/>
<path d="M317.1,554.0V555.5" stroke="#222" stroke-width="0.8"/>
<text x="317.1" y="566" font-size="8.7" text-anchor="middle" fill="#1a1a1a">−50</text>
<path d="M344.2,554.0V555.5" stroke="#222" stroke-width="0.8"/>
<text x="344.2" y="566" font-size="8.7" text-anchor="middle" fill="#1a1a1a">0</text>
<path d="M371.4,554.0V555.5" stroke="#222" stroke-width="0.8"/>
<text x="371.4" y="566" font-size="8.7" text-anchor="middle" fill="#1a1a1a">50</text>
<path d="M398.5,554.0V555.5" stroke="#222" stroke-width="0.8"/>
<text x="398.5" y="566" font-size="8.7" text-anchor="middle" fill="#1a1a1a">100</text>
<path d="M425.6,554.0V555.5" stroke="#222" stroke-width="0.8"/>
<text x="425.6" y="566" font-size="8.7" text-anchor="middle" fill="#1a1a1a">150</text>
<path d="M315.6,464.5H317.1" stroke="#222" stroke-width="0.8"/>
<text transform="translate(311.2,464.5) rotate(-90)" font-size="8.7" text-anchor="middle" fill="#1a1a1a">60</text>
<path d="M315.6,482.4H317.1" stroke="#222" stroke-width="0.8"/>
<text transform="translate(311.2,482.4) rotate(-90)" font-size="8.7" text-anchor="middle" fill="#1a1a1a">40</text>
<path d="M315.6,500.3H317.1" stroke="#222" stroke-width="0.8"/>
<text transform="translate(311.2,500.3) rotate(-90)" font-size="8.7" text-anchor="middle" fill="#1a1a1a">20</text>
<path d="M315.6,518.2H317.1" stroke="#222" stroke-width="0.8"/>
<text transform="translate(311.2,518.2) rotate(-90)" font-size="8.7" text-anchor="middle" fill="#1a1a1a">0</text>
<path d="M315.6,536.1H317.1" stroke="#222" stroke-width="0.8"/>
<text transform="translate(311.2,536.1) rotate(-90)" font-size="8.7" text-anchor="middle" fill="#1a1a1a">−20</text>
<path d="M315.6,554.0H317.1" stroke="#222" stroke-width="0.8"/>
<text transform="translate(311.2,554.0) rotate(-90)" font-size="8.7" text-anchor="middle" fill="#1a1a1a">−40</text>
<path d="M425.6,554.0l1.4,0.6" stroke="#222" stroke-width="0.8"/>
<text x="439.0" y="559.8" font-size="8.7" text-anchor="middle" fill="#1a1a1a">−80</text>
<path d="M440.7,546.1l1.4,0.6" stroke="#222" stroke-width="0.8"/>
<text x="453.5" y="552.0" font-size="8.7" text-anchor="middle" fill="#1a1a1a">−60</text>
<path d="M455.7,538.1l1.4,0.6" stroke="#222" stroke-width="0.8"/>
<text x="468.0" y="544.3" font-size="8.7" text-anchor="middle" fill="#1a1a1a">−40</text>
<path d="M470.8,530.2l1.4,0.6" stroke="#222" stroke-width="0.8"/>
<text x="482.5" y="536.5" font-size="8.7" text-anchor="middle" fill="#1a1a1a">−20</text>
<path d="M485.8,522.2l1.4,0.6" stroke="#222" stroke-width="0.8"/>
<text x="497.0" y="528.8" font-size="8.7" text-anchor="middle" fill="#1a1a1a">0</text>
<path d="M500.9,514.3l1.4,0.6" stroke="#222" stroke-width="0.8"/>
<text x="511.5" y="521.0" font-size="8.7" text-anchor="middle" fill="#1a1a1a">20</text>
<path d="M515.9,506.3l1.4,0.6" stroke="#222" stroke-width="0.8"/>
<text x="526.0" y="513.2" font-size="8.7" text-anchor="middle" fill="#1a1a1a">40</text>
<path d="M531.0,498.4l1.4,0.6" stroke="#222" stroke-width="0.8"/>
<text x="540.5" y="505.5" font-size="8.7" text-anchor="middle" fill="#1a1a1a">60</text>
<text x="370.6" y="581.8" font-size="12.4" text-anchor="middle">PC1</text>
<text transform="translate(297.2,509) rotate(-90)" font-size="12.4" text-anchor="middle">PC3</text>
<text transform="translate(503.6,545.2) rotate(-30)" font-size="12.4" text-anchor="middle">PC2</text>
<text x="560.2" y="372.6" font-size="17">(D)</text>
<rect x="604.2" y="375.8" width="244.0" height="12.8" fill="#d9d9d9"/>
<rect x="604.2" y="388.6" width="244.0" height="181.4" fill="#ebebeb"/>
<path d="M625.7,388.6V570" stroke="#f6f6f6" stroke-width="0.6"/>
<path d="M658.6,388.6V570" stroke="#f6f6f6" stroke-width="0.6"/>
<path d="M691.5,388.6V570" stroke="#f6f6f6" stroke-width="0.6"/>
<path d="M609.2,388.6V570" stroke="#ffffff" stroke-width="1.1"/>
<path d="M642.1,388.6V570" stroke="#ffffff" stroke-width="1.1"/>
<path d="M675.0,388.6V570" stroke="#ffffff" stroke-width="1.1"/>
<path d="M707.9,388.6V570" stroke="#ffffff" stroke-width="1.1"/>
<path d="M748.4,388.6V570" stroke="#f6f6f6" stroke-width="0.6"/>
<path d="M781.2,388.6V570" stroke="#f6f6f6" stroke-width="0.6"/>
<path d="M814.1,388.6V570" stroke="#f6f6f6" stroke-width="0.6"/>
<path d="M731.9,388.6V570" stroke="#ffffff" stroke-width="1.1"/>
<path d="M764.8,388.6V570" stroke="#ffffff" stroke-width="1.1"/>
<path d="M797.7,388.6V570" stroke="#ffffff" stroke-width="1.1"/>
<path d="M830.6,388.6V570" stroke="#ffffff" stroke-width="1.1"/>
<path d="M604.2,535.6H848.2" stroke="#f6f6f6" stroke-width="0.6"/>
<path d="M604.2,480.3H848.2" stroke="#f6f6f6" stroke-width="0.6"/>
<path d="M604.2,425.1H848.2" stroke="#f6f6f6" stroke-width="0.6"/>
<path d="M604.2,563.2H848.2" stroke="#ffffff" stroke-width="1.1"/>
<path d="M604.2,508.0H848.2" stroke="#ffffff" stroke-width="1.1"/>
<path d="M604.2,452.7H848.2" stroke="#ffffff" stroke-width="1.1"/>
<path d="M604.2,397.5H848.2" stroke="#ffffff" stroke-width="1.1"/>
<path d="M725.6,375.4V570" stroke="#111" stroke-width="1.6"/>
<text x="664.2" y="386.8" font-size="12.3" text-anchor="middle" fill="#1a1a1a">ANT</text>
<text x="787.2" y="386.8" font-size="12.3" text-anchor="middle" fill="#1a1a1a">Tumor</text>
<path d="M609.20,507.95H609.20 M609.20,509.06H609.21 M609.21,510.16H609.21 M609.23,514.58H609.24 M609.25,517.90H609.26 M609.26,519.00H609.27 M609.29,521.21H609.30 M609.32,523.42H609.33 M609.33,524.53H609.34 M609.34,525.63H609.36 M609.36,526.74H609.38 M609.38,527.84H609.40 M609.40,528.95H609.43 M609.43,530.05H609.45 M609.45,531.16H609.48 M609.48,532.26H609.51 M609.51,533.37H609.53 M609.53,534.47H609.56 M609.56,535.58H609.58 M609.58,536.68H609.69 M609.69,537.79H609.87 M609.87,538.89H610.05 M610.05,540.00H610.23 M610.23,541.10H610.41 M610.41,542.21H610.60 M610.60,543.31H610.78 M610.78,544.42H611.42 M611.42,545.52H612.07 M612.07,546.62H612.71 M612.71,547.73H613.36 M613.36,548.84H614.08 M614.08,549.94H615.48 M615.48,551.05H616.88 M616.88,552.15H618.28 M618.28,553.25H620.73 M620.73,554.36H623.89 M623.89,555.47H627.05 M627.05,556.57H632.35 M632.35,557.68H637.90 M637.90,558.78H644.59 M644.59,559.88H651.77 M651.77,560.99H664.83 M664.83,562.10H686.02" fill="none" stroke="#3577bd" stroke-width="3.5" stroke-linecap="round"/>
<path d="M731.90,492.48H731.90 M731.90,493.59H731.90 M731.90,494.69H731.91 M731.91,495.80H731.91 M731.91,496.90H731.91 M731.91,498.01H731.91 M731.91,499.11H731.91 M731.91,500.22H731.91 M731.92,505.74H731.92 M731.93,511.27H731.97 M731.97,512.37H732.00 M732.00,513.48H732.04 M732.04,514.58H732.07 M732.07,515.69H732.11 M732.11,516.79H732.15 M732.15,517.90H732.18 M732.18,519.00H732.22 M732.22,520.11H732.25 M732.25,521.21H732.29 M732.29,522.32H732.40 M732.40,523.42H732.53 M732.53,524.53H732.66 M732.66,525.63H732.79 M732.79,526.74H732.91 M732.91,527.84H733.04 M733.04,528.95H733.17 M733.17,530.05H733.30 M733.30,531.16H733.62 M733.62,532.26H733.95 M733.95,533.37H734.28 M734.28,534.47H734.62 M734.62,535.58H734.95 M734.95,536.68H735.29 M735.29,537.79H735.86 M735.86,538.89H736.60 M736.60,540.00H737.33 M737.33,541.10H738.07 M738.07,542.21H738.80 M738.80,543.31H739.94 M739.94,544.42H741.12 M741.12,545.52H742.30 M742.30,546.62H743.48 M743.48,547.73H745.09 M745.09,548.84H747.14 M747.14,549.94H749.18 M749.18,551.05H751.33 M751.33,552.15H754.43 M754.43,553.25H757.53 M757.53,554.36H761.35 M761.35,555.47H766.85 M766.85,556.57H772.63 M772.63,557.68H780.86 M780.86,558.78H790.32 M790.32,559.88H804.77 M804.77,560.99H818.66 M818.66,562.10H843.76" fill="none" stroke="#f2301f" stroke-width="3.5" stroke-linecap="round"/>
<circle cx="609.2" cy="455.8" r="1.75" fill="#3577bd"/>
<circle cx="609.2" cy="462.3" r="1.75" fill="#3577bd"/>
<circle cx="609.2" cy="467.1" r="1.75" fill="#3577bd"/>
<circle cx="609.2" cy="481.3" r="1.75" fill="#3577bd"/>
<circle cx="609.2" cy="499.9" r="1.75" fill="#3577bd"/>
<circle cx="609.2" cy="503.7" r="1.75" fill="#3577bd"/>
<circle cx="731.9" cy="397" r="1.75" fill="#f2301f"/>
<circle cx="731.9" cy="413.8" r="1.75" fill="#f2301f"/>
<circle cx="731.9" cy="439.3" r="1.75" fill="#f2301f"/>
<circle cx="731.9" cy="464" r="1.75" fill="#f2301f"/>
<circle cx="731.9" cy="486.8" r="1.75" fill="#f2301f"/>
<text x="613.8" y="454" font-size="12">GCN1</text>
<text x="613.8" y="465.7" font-size="12">RNF213</text>
<text x="613.8" y="477.6" font-size="12">PRKDC</text>
<text x="613.8" y="489.6" font-size="12">PARP14</text>
<text x="613.8" y="505.8" font-size="12">CPS1</text>
<text x="736.4" y="401.4" font-size="12">PRKDC</text>
<text x="736.4" y="417.6" font-size="12">RNF213</text>
<text x="736.4" y="443.5" font-size="12">GCN1</text>
<text x="736.4" y="468" font-size="12">PARP14</text>
<text x="736.4" y="490" font-size="12">ASCC3</text>
<path d="M601.6,563.2H604.2" stroke="#333" stroke-width="0.8"/>
<text x="598.4" y="567.1" font-size="10.8" text-anchor="end" fill="#1a1a1a">0</text>
<path d="M601.6,508.0H604.2" stroke="#333" stroke-width="0.8"/>
<text x="598.4" y="511.9" font-size="10.8" text-anchor="end" fill="#1a1a1a">50</text>
<path d="M601.6,452.7H604.2" stroke="#333" stroke-width="0.8"/>
<text x="598.4" y="456.6" font-size="10.8" text-anchor="end" fill="#1a1a1a">100</text>
<path d="M601.6,397.5H604.2" stroke="#333" stroke-width="0.8"/>
<text x="598.4" y="401.4" font-size="10.8" text-anchor="end" fill="#1a1a1a">150</text>
<path d="M609.2,570V572.6" stroke="#333" stroke-width="0.8"/>
<text x="609.2" y="585.8" font-size="10.8" text-anchor="middle" fill="#1a1a1a">0</text>
<path d="M642.1,570V572.6" stroke="#333" stroke-width="0.8"/>
<text x="642.1" y="585.8" font-size="10.8" text-anchor="middle" fill="#1a1a1a">1000</text>
<path d="M675.0,570V572.6" stroke="#333" stroke-width="0.8"/>
<text x="675.0" y="585.8" font-size="10.8" text-anchor="middle" fill="#1a1a1a">2000</text>
<path d="M707.9,570V572.6" stroke="#333" stroke-width="0.8"/>
<text x="707.9" y="585.8" font-size="10.8" text-anchor="middle" fill="#1a1a1a">3000</text>
<path d="M731.9,570V572.6" stroke="#333" stroke-width="0.8"/>
<text x="731.9" y="585.8" font-size="10.8" text-anchor="middle" fill="#1a1a1a">0</text>
<path d="M764.8,570V572.6" stroke="#333" stroke-width="0.8"/>
<text x="764.8" y="585.8" font-size="10.8" text-anchor="middle" fill="#1a1a1a">1000</text>
<path d="M797.7,570V572.6" stroke="#333" stroke-width="0.8"/>
<text x="797.7" y="585.8" font-size="10.8" text-anchor="middle" fill="#1a1a1a">2000</text>
<path d="M830.6,570V572.6" stroke="#333" stroke-width="0.8"/>
<text x="830.6" y="585.8" font-size="10.8" text-anchor="middle" fill="#1a1a1a">3000</text>
<text x="725.8" y="603.4" font-size="12" text-anchor="middle">Ubiquitoprotein</text>
<text transform="translate(569.6,479.8) rotate(-90)" font-size="12.1" text-anchor="middle">ubiquitinated site number</text>
<text x="22.4" y="646.4" font-size="17">(E)</text>
<text x="96.8" y="645.4" font-size="13.8">PCA analysis of phosphosite</text>
<circle cx="150.1" cy="664.6" r="2.2" fill="#3577bd"/><text x="156.2" y="668.6" font-size="12.1">ANT</text>
<circle cx="201.3" cy="664.6" r="2.2" fill="#ee3531"/><text x="208.4" y="668.6" font-size="12.1">Tumor</text>
<path d="M93.1,818.5H219.8" stroke="#c6c6c6" stroke-width="0.8" fill="none"/>
<path d="M107.1,811.0H233.8" stroke="#c6c6c6" stroke-width="0.8" fill="none"/>
<path d="M121.2,803.5H247.9" stroke="#c6c6c6" stroke-width="0.8" fill="none"/>
<path d="M135.3,796.0H262.0" stroke="#c6c6c6" stroke-width="0.8" fill="none"/>
<path d="M149.3,788.5H276.0" stroke="#c6c6c6" stroke-width="0.8" fill="none"/>
<path d="M104.3,826.0L188.7,781.0" stroke="#c6c6c6" stroke-width="0.8" fill="none"/>
<path d="M129.7,826.0L214.1,781.0" stroke="#c6c6c6" stroke-width="0.8" fill="none"/>
<path d="M155.0,826.0L239.4,781.0" stroke="#c6c6c6" stroke-width="0.8" fill="none"/>
<path d="M180.4,826.0L264.8,781.0" stroke="#c6c6c6" stroke-width="0.8" fill="none"/>
<path d="M163.4,679.3V781.0H290.1" stroke="#222" stroke-width="0.9" fill="none"/>
<path d="M79.0,826.0L163.4,781.0" stroke="#222" stroke-width="0.9" fill="none"/>
<circle cx="168.5" cy="733.6" r="2.05" fill="#3577bd"/>
<circle cx="156.1" cy="745.0" r="2.05" fill="#3577bd"/>
<circle cx="157.8" cy="749.4" r="2.05" fill="#3577bd"/>
<circle cx="177.5" cy="748.0" r="2.05" fill="#3577bd"/>
<circle cx="175.7" cy="752.9" r="2.05" fill="#3577bd"/>
<circle cx="140.6" cy="756.2" r="2.05" fill="#3577bd"/>
<circle cx="149.6" cy="756.2" r="2.05" fill="#3577bd"/>
<circle cx="152.7" cy="757.8" r="2.05" fill="#3577bd"/>
<circle cx="157.5" cy="759.9" r="2.05" fill="#3577bd"/>
<circle cx="160.3" cy="760.1" r="2.05" fill="#3577bd"/>
<circle cx="150.8" cy="765.9" r="2.05" fill="#3577bd"/>
<circle cx="161.7" cy="771.3" r="2.05" fill="#3577bd"/>
<circle cx="144.5" cy="772.4" r="2.05" fill="#3577bd"/>
<circle cx="137.8" cy="774.3" r="2.05" fill="#3577bd"/>
<circle cx="121.3" cy="780.3" r="2.05" fill="#3577bd"/>
<circle cx="127.6" cy="783.1" r="2.05" fill="#3577bd"/>
<circle cx="135.5" cy="786.8" r="2.05" fill="#3577bd"/>
<circle cx="112.7" cy="797.7" r="2.05" fill="#3577bd"/>
<circle cx="186.4" cy="734.4" r="2.05" fill="#ee3531"/>
<circle cx="185.6" cy="744.3" r="2.05" fill="#ee3531"/>
<circle cx="198" cy="760.3" r="2.05" fill="#ee3531"/>
<circle cx="205.9" cy="767.6" r="2.05" fill="#ee3531"/>
<circle cx="230.2" cy="739" r="2.05" fill="#ee3531"/>
<circle cx="241.1" cy="738.6" r="2.05" fill="#ee3531"/>
<circle cx="234.2" cy="746.3" r="2.05" fill="#ee3531"/>
<circle cx="236.7" cy="753.8" r="2.05" fill="#ee3531"/>
<circle cx="234.4" cy="757.7" r="2.05" fill="#ee3531"/>
<circle cx="219" cy="757.9" r="2.05" fill="#ee3531"/>
<circle cx="223.5" cy="757.3" r="2.05" fill="#ee3531"/>
<circle cx="219.2" cy="762.1" r="2.05" fill="#ee3531"/>
<circle cx="226.3" cy="765" r="2.05" fill="#ee3531"/>
<circle cx="238.1" cy="763.8" r="2.05" fill="#ee3531"/>
<circle cx="254.9" cy="763.8" r="2.05" fill="#ee3531"/>
<circle cx="245.4" cy="778.7" r="2.05" fill="#ee3531"/>
<circle cx="234.6" cy="782.2" r="2.05" fill="#ee3531"/>
<circle cx="191.3" cy="812.4" r="2.05" fill="#ee3531"/>
<path d="M79.0,724.3L163.4,679.3H290.1V781.0L205.7,826.0" stroke="#222" stroke-width="0.9" fill="none"/>
<path d="M205.7,724.3L290.1,679.3" stroke="#222" stroke-width="0.9" fill="none"/>
<rect x="79.0" y="724.3" width="126.7" height="101.7" stroke="#222" stroke-width="0.9" fill="none"/>
<path d="M79.0,826V827.5" stroke="#222" stroke-width="0.8"/>
<text x="79.0" y="836" font-size="8.7" text-anchor="middle" fill="#1a1a1a">−40</text>
<path d="M104.3,826V827.5" stroke="#222" stroke-width="0.8"/>
<text x="104.3" y="836" font-size="8.7" text-anchor="middle" fill="#1a1a1a">−20</text>
<path d="M129.7,826V827.5" stroke="#222" stroke-width="0.8"/>
<text x="129.7" y="836" font-size="8.7" text-anchor="middle" fill="#1a1a1a">0</text>
<path d="M155.0,826V827.5" stroke="#222" stroke-width="0.8"/>
<text x="155.0" y="836" font-size="8.7" text-anchor="middle" fill="#1a1a1a">20</text>
<path d="M180.4,826V827.5" stroke="#222" stroke-width="0.8"/>
<text x="180.4" y="836" font-size="8.7" text-anchor="middle" fill="#1a1a1a">40</text>
<path d="M205.7,826V827.5" stroke="#222" stroke-width="0.8"/>
<text x="205.7" y="836" font-size="8.7" text-anchor="middle" fill="#1a1a1a">60</text>
<path d="M77.5,724.3H79" stroke="#222" stroke-width="0.8"/>
<text transform="translate(72.9,724.3) rotate(-90)" font-size="8.7" text-anchor="middle" fill="#1a1a1a">80</text>
<path d="M77.5,741.2H79" stroke="#222" stroke-width="0.8"/>
<text transform="translate(72.9,741.2) rotate(-90)" font-size="8.7" text-anchor="middle" fill="#1a1a1a">60</text>
<path d="M77.5,758.2H79" stroke="#222" stroke-width="0.8"/>
<text transform="translate(72.9,758.2) rotate(-90)" font-size="8.7" text-anchor="middle" fill="#1a1a1a">40</text>
<path d="M77.5,775.1H79" stroke="#222" stroke-width="0.8"/>
<text transform="translate(72.9,775.1) rotate(-90)" font-size="8.7" text-anchor="middle" fill="#1a1a1a">20</text>
<path d="M77.5,792.1H79" stroke="#222" stroke-width="0.8"/>
<text transform="translate(72.9,792.1) rotate(-90)" font-size="8.7" text-anchor="middle" fill="#1a1a1a">0</text>
<path d="M77.5,809.0H79" stroke="#222" stroke-width="0.8"/>
<text transform="translate(72.9,809.0) rotate(-90)" font-size="8.7" text-anchor="middle" fill="#1a1a1a">−20</text>
<path d="M77.5,826.0H79" stroke="#222" stroke-width="0.8"/>
<text transform="translate(72.9,826.0) rotate(-90)" font-size="8.7" text-anchor="middle" fill="#1a1a1a">−40</text>
<path d="M205.7,826.0l1.4,0.6" stroke="#222" stroke-width="0.8"/>
<text x="222.7" y="830.0" font-size="8.7" text-anchor="middle" fill="#1a1a1a">−80</text>
<path d="M219.8,818.5l1.4,0.6" stroke="#222" stroke-width="0.8"/>
<text x="236.8" y="822.5" font-size="8.7" text-anchor="middle" fill="#1a1a1a">−60</text>
<path d="M233.8,811.0l1.4,0.6" stroke="#222" stroke-width="0.8"/>
<text x="250.8" y="815.0" font-size="8.7" text-anchor="middle" fill="#1a1a1a">−40</text>
<path d="M247.9,803.5l1.4,0.6" stroke="#222" stroke-width="0.8"/>
<text x="264.9" y="807.5" font-size="8.7" text-anchor="middle" fill="#1a1a1a">−20</text>
<path d="M262.0,796.0l1.4,0.6" stroke="#222" stroke-width="0.8"/>
<text x="279.0" y="800.0" font-size="8.7" text-anchor="middle" fill="#1a1a1a">0</text>
<path d="M276.0,788.5l1.4,0.6" stroke="#222" stroke-width="0.8"/>
<text x="293.0" y="792.5" font-size="8.7" text-anchor="middle" fill="#1a1a1a">20</text>
<path d="M290.1,781.0l1.4,0.6" stroke="#222" stroke-width="0.8"/>
<text x="307.1" y="785.0" font-size="8.7" text-anchor="middle" fill="#1a1a1a">40</text>
<text x="142.2" y="851.6" font-size="12.4" text-anchor="middle">PC1</text>
<text transform="translate(58.8,773) rotate(-90)" font-size="12.4" text-anchor="middle">PC3</text>
<text transform="translate(275,823.4) rotate(-30)" font-size="12.4" text-anchor="middle">PC2</text>
<text x="365" y="645.6" font-size="17">(F)</text>
<text x="475.2" y="656.4" font-size="13.8" text-anchor="middle">Phosphoprotein</text>
<text x="709.4" y="656.4" font-size="13.8" text-anchor="middle">Phosphosite</text>
<circle cx="486.3" cy="757.5" r="53" fill="#f8bd8f"/><circle cx="469" cy="757.5" r="53" fill="#16d9cf"/><clipPath id="vc1"><circle cx="469" cy="757.5" r="53"/></clipPath><circle cx="486.3" cy="757.5" r="53" fill="#8fb183" clip-path="url(#vc1)"/>
<circle cx="726.6" cy="759.2" r="53.1" fill="#f8bd8f"/><circle cx="701.3" cy="759.2" r="53.1" fill="#16d9cf"/><clipPath id="vc2"><circle cx="701.3" cy="759.2" r="53.1"/></clipPath><circle cx="726.6" cy="759.2" r="53.1" fill="#8fb183" clip-path="url(#vc2)"/>
<text x="401.6" y="694.8" font-size="13.8" text-anchor="start">ANT</text>
<text x="513.8" y="694.8" font-size="13.8" text-anchor="start">Tumor</text>
<text x="641.2" y="694.8" font-size="13.8" text-anchor="start">ANT</text>
<text x="753.8" y="694.8" font-size="13.8" text-anchor="start">Tumor</text>
<text x="384.6" y="726.2" font-size="13.8" text-anchor="middle">97</text>
<text x="384.8" y="741.2" font-size="13.8" text-anchor="middle">(1.6%)</text>
<text x="472.3" y="751.8" font-size="13.8" text-anchor="middle">5509</text>
<text x="472.3" y="767.6" font-size="13.8" text-anchor="middle">(91.8%)</text>
<text x="560.4" y="782.8" font-size="13.8" text-anchor="middle">396</text>
<text x="560.4" y="798.3" font-size="13.8" text-anchor="middle">(6.6%)</text>
<text x="618.6" y="725.6" font-size="13.8" text-anchor="middle">555</text>
<text x="619.4" y="741.2" font-size="13.8" text-anchor="middle">(2.4%)</text>
<text x="711.8" y="753.8" font-size="13.8" text-anchor="middle">21085</text>
<text x="711.8" y="769.8" font-size="13.8" text-anchor="middle">(89.5%)</text>
<text x="807.4" y="784.2" font-size="13.8" text-anchor="middle">1918</text>
<text x="807.4" y="800.1" font-size="13.8" text-anchor="middle">(8.1%)</text>
<path d="M403.5,728.3L423,737.6" stroke="#222" stroke-width="0.9"/><path d="M529.7,773.7L544.8,783.3" stroke="#222" stroke-width="0.9"/>
<path d="M643,730.7L663.1,740.6" stroke="#222" stroke-width="0.9"/><path d="M769.2,775.2L784.9,785.4" stroke="#222" stroke-width="0.9"/>
</svg>
</body></html>
